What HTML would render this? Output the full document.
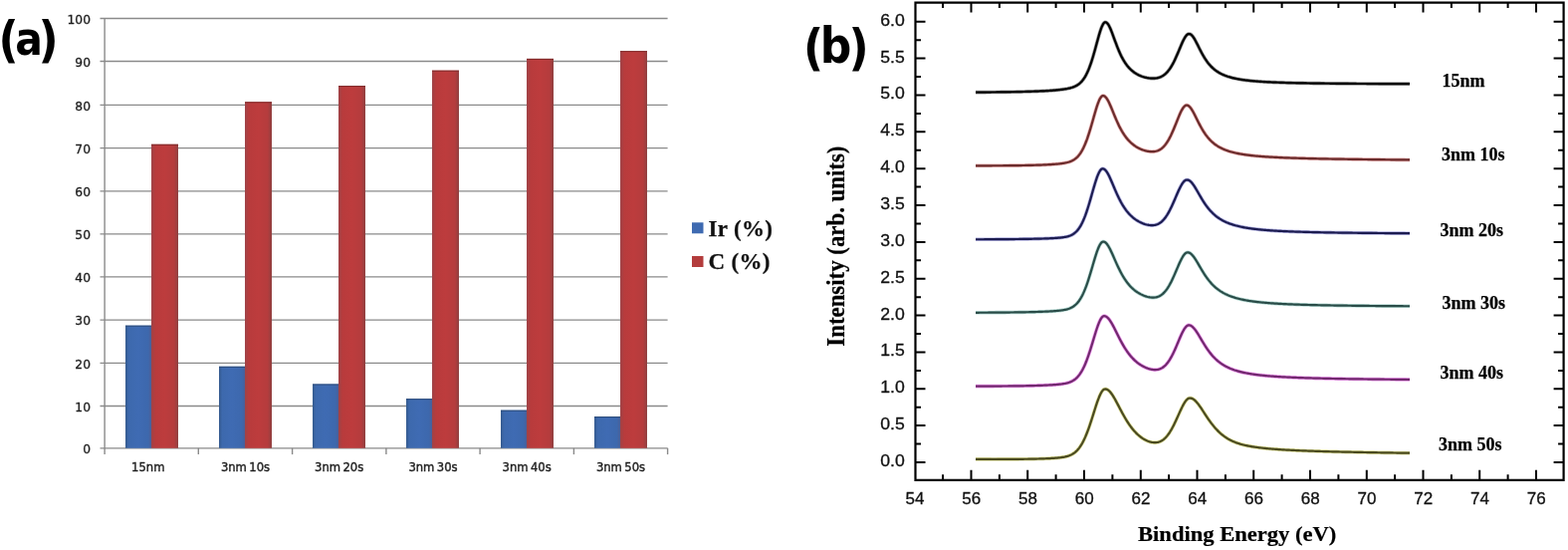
<!DOCTYPE html>
<html><head><meta charset="utf-8"><title>Ir/C composition and Ir 4f XPS spectra</title>
<style>
html,body{margin:0;padding:0;background:#fff;}
body{width:1575px;height:552px;overflow:hidden;}
svg{display:block;}
.ya{font-family:"DejaVu Sans",sans-serif;font-size:12.3px;fill:#1e1e1e;stroke:#1e1e1e;stroke-width:0.3px;}
.xa{font-family:"DejaVu Sans",sans-serif;font-size:11.6px;word-spacing:-1.3px;fill:#1e1e1e;stroke:#1e1e1e;stroke-width:0.4px;}
.leg{font-family:"Liberation Serif",serif;font-weight:bold;font-size:23px;letter-spacing:0.3px;fill:#111;stroke:#111;stroke-width:0.25px;}
.pl{font-family:"DejaVu Sans Condensed","DejaVu Sans",sans-serif;font-stretch:condensed;font-weight:bold;font-size:49px;fill:#000;}
.yb,.xb{font-family:"Liberation Sans",Arial,sans-serif;font-size:16.5px;fill:#111;stroke:#111;stroke-width:0.3px;}
.xb{font-size:17px;}
.tt{font-family:"Liberation Serif",serif;font-weight:bold;font-size:22px;fill:#000;stroke:#000;stroke-width:0.2px;}
.cl{font-family:"Liberation Serif",serif;font-weight:bold;font-size:18px;fill:#000;stroke:#000;stroke-width:0.25px;}
</style></head>
<body>
<svg width="1575" height="552" viewBox="0 0 1575 552">
<defs>
<linearGradient id="gb" x1="0" x2="1" y1="0" y2="0">
<stop offset="0" stop-color="#34598c"/><stop offset="0.12" stop-color="#3d69ad"/><stop offset="0.5" stop-color="#3f6bb3"/><stop offset="0.88" stop-color="#3d68ad"/><stop offset="1" stop-color="#4a5f98"/>
</linearGradient>
<linearGradient id="gr" x1="0" x2="1" y1="0" y2="0">
<stop offset="0" stop-color="#9e4347"/><stop offset="0.15" stop-color="#b83b3c"/><stop offset="0.5" stop-color="#bd3c3d"/><stop offset="0.85" stop-color="#b53c3d"/><stop offset="1" stop-color="#8e4040"/>
</linearGradient>
</defs>
<rect width="1575" height="552" fill="#fff"/>
<line x1="100.5" y1="449.8" x2="670.6" y2="449.8" stroke="#8a8a8a" stroke-width="1.3"/>
<line x1="100.5" y1="407.5" x2="670.6" y2="407.5" stroke="#8a8a8a" stroke-width="1.3"/>
<line x1="100.5" y1="364.4" x2="670.6" y2="364.4" stroke="#8a8a8a" stroke-width="1.3"/>
<line x1="100.5" y1="321.1" x2="670.6" y2="321.1" stroke="#8a8a8a" stroke-width="1.3"/>
<line x1="100.5" y1="277.9" x2="670.6" y2="277.9" stroke="#8a8a8a" stroke-width="1.3"/>
<line x1="100.5" y1="234.8" x2="670.6" y2="234.8" stroke="#8a8a8a" stroke-width="1.3"/>
<line x1="100.5" y1="191.9" x2="670.6" y2="191.9" stroke="#8a8a8a" stroke-width="1.3"/>
<line x1="100.5" y1="148.7" x2="670.6" y2="148.7" stroke="#8a8a8a" stroke-width="1.3"/>
<line x1="100.5" y1="105.4" x2="670.6" y2="105.4" stroke="#8a8a8a" stroke-width="1.3"/>
<line x1="100.5" y1="61.5" x2="670.6" y2="61.5" stroke="#8a8a8a" stroke-width="1.3"/>
<line x1="100.5" y1="18.5" x2="670.6" y2="18.5" stroke="#8a8a8a" stroke-width="1.3"/>
<line x1="105.1" y1="18.5" x2="105.1" y2="456.1" stroke="#8a8a8a" stroke-width="1.4"/>
<line x1="199.3" y1="449.8" x2="199.3" y2="456.1" stroke="#8a8a8a" stroke-width="1.4"/>
<line x1="293.6" y1="449.8" x2="293.6" y2="456.1" stroke="#8a8a8a" stroke-width="1.4"/>
<line x1="387.9" y1="449.8" x2="387.9" y2="456.1" stroke="#8a8a8a" stroke-width="1.4"/>
<line x1="482.1" y1="449.8" x2="482.1" y2="456.1" stroke="#8a8a8a" stroke-width="1.4"/>
<line x1="576.4" y1="449.8" x2="576.4" y2="456.1" stroke="#8a8a8a" stroke-width="1.4"/>
<line x1="670.6" y1="449.8" x2="670.6" y2="456.1" stroke="#8a8a8a" stroke-width="1.4"/>
<rect x="126" y="326.7" width="26" height="123.1" fill="url(#gb)"/>
<rect x="152" y="144.8" width="27" height="305.0" fill="url(#gr)"/>
<line x1="126" y1="327.2" x2="152" y2="327.2" stroke="#2c4a78" stroke-width="1"/>
<line x1="152" y1="145.3" x2="179" y2="145.3" stroke="#7e2a2a" stroke-width="1"/>
<rect x="220" y="367.8" width="26" height="82.0" fill="url(#gb)"/>
<rect x="246" y="102.3" width="27" height="347.5" fill="url(#gr)"/>
<line x1="220" y1="368.3" x2="246" y2="368.3" stroke="#2c4a78" stroke-width="1"/>
<line x1="246" y1="102.8" x2="273" y2="102.8" stroke="#7e2a2a" stroke-width="1"/>
<rect x="314" y="385.5" width="26" height="64.3" fill="url(#gb)"/>
<rect x="340" y="86.1" width="27" height="363.7" fill="url(#gr)"/>
<line x1="314" y1="386.0" x2="340" y2="386.0" stroke="#2c4a78" stroke-width="1"/>
<line x1="340" y1="86.6" x2="367" y2="86.6" stroke="#7e2a2a" stroke-width="1"/>
<rect x="408" y="400.2" width="26" height="49.6" fill="url(#gb)"/>
<rect x="434" y="70.7" width="27" height="379.1" fill="url(#gr)"/>
<line x1="408" y1="400.7" x2="434" y2="400.7" stroke="#2c4a78" stroke-width="1"/>
<line x1="434" y1="71.2" x2="461" y2="71.2" stroke="#7e2a2a" stroke-width="1"/>
<rect x="503" y="411.7" width="26" height="38.1" fill="url(#gb)"/>
<rect x="529" y="58.9" width="27" height="390.9" fill="url(#gr)"/>
<line x1="503" y1="412.2" x2="529" y2="412.2" stroke="#2c4a78" stroke-width="1"/>
<line x1="529" y1="59.4" x2="556" y2="59.4" stroke="#7e2a2a" stroke-width="1"/>
<rect x="597" y="418.1" width="26" height="31.7" fill="url(#gb)"/>
<rect x="623" y="51.2" width="27" height="398.6" fill="url(#gr)"/>
<line x1="597" y1="418.6" x2="623" y2="418.6" stroke="#2c4a78" stroke-width="1"/>
<line x1="623" y1="51.7" x2="650" y2="51.7" stroke="#7e2a2a" stroke-width="1"/>
<text x="91" y="455.0" text-anchor="end" class="ya">0</text>
<text x="91" y="412.7" text-anchor="end" class="ya">10</text>
<text x="91" y="369.6" text-anchor="end" class="ya">20</text>
<text x="91" y="326.3" text-anchor="end" class="ya">30</text>
<text x="91" y="283.1" text-anchor="end" class="ya">40</text>
<text x="91" y="240.0" text-anchor="end" class="ya">50</text>
<text x="91" y="197.1" text-anchor="end" class="ya">60</text>
<text x="91" y="153.9" text-anchor="end" class="ya">70</text>
<text x="91" y="110.6" text-anchor="end" class="ya">80</text>
<text x="91" y="66.7" text-anchor="end" class="ya">90</text>
<text x="91" y="23.7" text-anchor="end" class="ya">100</text>
<text x="148.8" y="473.4" text-anchor="middle" class="xa">15nm</text>
<text x="246.5" y="473.4" text-anchor="middle" class="xa">3nm 10s</text>
<text x="340.7" y="473.4" text-anchor="middle" class="xa">3nm 20s</text>
<text x="435.0" y="473.4" text-anchor="middle" class="xa">3nm 30s</text>
<text x="529.2" y="473.4" text-anchor="middle" class="xa">3nm 40s</text>
<text x="623.5" y="473.4" text-anchor="middle" class="xa">3nm 50s</text>
<rect x="695" y="223.3" width="11.5" height="11" fill="#3e6ab1"/>
<rect x="695" y="257" width="11.5" height="11" fill="#b33c3c"/>
<text x="711.6" y="236.6" class="leg">Ir (%)</text>
<text x="711.6" y="269.6" class="leg">C (%)</text>
<text class="pl"><tspan x="-1.6" y="57.3">(</tspan><tspan x="15.2" y="55.2" style="font-size:45.5px">a</tspan><tspan x="38.4" y="57.3">)</tspan></text>
<path d="M919.5 2.6H1570.6V481.8H919.5Z" fill="none" stroke="#000" stroke-width="2.2"/>
<path d="M919.5 464.0h10M1570.6 464.0h-10M919.5 445.6h5.5M1570.6 445.6h-5.5M919.5 427.1h10M1570.6 427.1h-10M919.5 408.7h5.5M1570.6 408.7h-5.5M919.5 390.3h10M1570.6 390.3h-10M919.5 371.9h5.5M1570.6 371.9h-5.5M919.5 353.4h10M1570.6 353.4h-10M919.5 335.0h5.5M1570.6 335.0h-5.5M919.5 316.6h10M1570.6 316.6h-10M919.5 298.2h5.5M1570.6 298.2h-5.5M919.5 279.8h10M1570.6 279.8h-10M919.5 261.3h5.5M1570.6 261.3h-5.5M919.5 242.9h10M1570.6 242.9h-10M919.5 224.5h5.5M1570.6 224.5h-5.5M919.5 206.1h10M1570.6 206.1h-10M919.5 187.6h5.5M1570.6 187.6h-5.5M919.5 169.2h10M1570.6 169.2h-10M919.5 150.8h5.5M1570.6 150.8h-5.5M919.5 132.3h10M1570.6 132.3h-10M919.5 113.9h5.5M1570.6 113.9h-5.5M919.5 95.5h10M1570.6 95.5h-10M919.5 77.1h5.5M1570.6 77.1h-5.5M919.5 58.6h10M1570.6 58.6h-10M919.5 40.2h5.5M1570.6 40.2h-5.5M919.5 21.8h10M1570.6 21.8h-10M947.1 481.8v-5.5M947.1 2.6v5.5M975.5 481.8v-10M975.5 2.6v10M1003.9 481.8v-5.5M1003.9 2.6v5.5M1032.2 481.8v-10M1032.2 2.6v10M1060.6 481.8v-5.5M1060.6 2.6v5.5M1089.0 481.8v-10M1089.0 2.6v10M1117.4 481.8v-5.5M1117.4 2.6v5.5M1145.8 481.8v-10M1145.8 2.6v10M1174.1 481.8v-5.5M1174.1 2.6v5.5M1202.5 481.8v-10M1202.5 2.6v10M1230.9 481.8v-5.5M1230.9 2.6v5.5M1259.2 481.8v-10M1259.2 2.6v10M1287.6 481.8v-5.5M1287.6 2.6v5.5M1316.0 481.8v-10M1316.0 2.6v10M1344.4 481.8v-5.5M1344.4 2.6v5.5M1372.8 481.8v-10M1372.8 2.6v10M1401.1 481.8v-5.5M1401.1 2.6v5.5M1429.5 481.8v-10M1429.5 2.6v10M1457.9 481.8v-5.5M1457.9 2.6v5.5M1486.2 481.8v-10M1486.2 2.6v10M1514.6 481.8v-5.5M1514.6 2.6v5.5M1543.0 481.8v-10M1543.0 2.6v10" fill="none" stroke="#000" stroke-width="2"/>
<text transform="translate(908.8 467.9) scale(1.07 1)" text-anchor="end" class="yb">0.0</text>
<text transform="translate(908.8 431.0) scale(1.07 1)" text-anchor="end" class="yb">0.5</text>
<text transform="translate(908.8 394.2) scale(1.07 1)" text-anchor="end" class="yb">1.0</text>
<text transform="translate(908.8 357.3) scale(1.07 1)" text-anchor="end" class="yb">1.5</text>
<text transform="translate(908.8 320.5) scale(1.07 1)" text-anchor="end" class="yb">2.0</text>
<text transform="translate(908.8 283.6) scale(1.07 1)" text-anchor="end" class="yb">2.5</text>
<text transform="translate(908.8 246.8) scale(1.07 1)" text-anchor="end" class="yb">3.0</text>
<text transform="translate(908.8 210.0) scale(1.07 1)" text-anchor="end" class="yb">3.5</text>
<text transform="translate(908.8 173.1) scale(1.07 1)" text-anchor="end" class="yb">4.0</text>
<text transform="translate(908.8 136.2) scale(1.07 1)" text-anchor="end" class="yb">4.5</text>
<text transform="translate(908.8 99.4) scale(1.07 1)" text-anchor="end" class="yb">5.0</text>
<text transform="translate(908.8 62.5) scale(1.07 1)" text-anchor="end" class="yb">5.5</text>
<text transform="translate(908.8 25.7) scale(1.07 1)" text-anchor="end" class="yb">6.0</text>
<text x="919.0" y="506" text-anchor="middle" class="xb">54</text>
<text x="975.8" y="506" text-anchor="middle" class="xb">56</text>
<text x="1032.5" y="506" text-anchor="middle" class="xb">58</text>
<text x="1089.3" y="506" text-anchor="middle" class="xb">60</text>
<text x="1146.0" y="506" text-anchor="middle" class="xb">62</text>
<text x="1202.8" y="506" text-anchor="middle" class="xb">64</text>
<text x="1259.5" y="506" text-anchor="middle" class="xb">66</text>
<text x="1316.3" y="506" text-anchor="middle" class="xb">68</text>
<text x="1373.0" y="506" text-anchor="middle" class="xb">70</text>
<text x="1429.8" y="506" text-anchor="middle" class="xb">72</text>
<text x="1486.5" y="506" text-anchor="middle" class="xb">74</text>
<text x="1543.3" y="506" text-anchor="middle" class="xb">76</text>
<text transform="translate(1143 543.4) scale(1.075 1)" class="tt" style="font-size:21px">Binding Energy (eV)</text>
<text transform="translate(847.8 347.7) scale(1.057 1) rotate(-90)" class="tt" style="font-size:22.85px">Intensity (arb. units)</text>
<text class="pl"><tspan x="806.9" y="65.2">(</tspan><tspan x="823.7" y="62.9">b</tspan><tspan x="852.5" y="65.2">)</tspan></text>
<path d="M980.0 92.66 981.0 92.65 982.0 92.65 983.0 92.64 984.0 92.63 985.0 92.62 986.0 92.61 987.0 92.61 988.0 92.60 989.0 92.59 990.0 92.58 991.0 92.57 992.0 92.56 993.0 92.55 994.0 92.54 995.0 92.53 996.0 92.52 997.0 92.51 998.0 92.50 999.0 92.49 1000.0 92.48 1001.0 92.47 1002.0 92.46 1003.0 92.44 1004.0 92.43 1005.0 92.42 1006.0 92.41 1007.0 92.39 1008.0 92.38 1009.0 92.37 1010.0 92.35 1011.0 92.34 1012.0 92.32 1013.0 92.31 1014.0 92.29 1015.0 92.28 1016.0 92.26 1017.0 92.24 1018.0 92.23 1019.0 92.21 1020.0 92.19 1021.0 92.17 1022.0 92.15 1023.0 92.13 1024.0 92.11 1025.0 92.09 1026.0 92.07 1027.0 92.04 1028.0 92.02 1029.0 92.00 1030.0 91.97 1031.0 91.95 1032.0 91.92 1033.0 91.89 1034.0 91.86 1035.0 91.83 1036.0 91.80 1037.0 91.77 1038.0 91.74 1039.0 91.71 1040.0 91.67 1041.0 91.63 1042.0 91.59 1043.0 91.56 1044.0 91.51 1045.0 91.47 1046.0 91.43 1047.0 91.38 1048.0 91.33 1049.0 91.28 1050.0 91.23 1051.0 91.17 1052.0 91.11 1053.0 91.05 1054.0 90.99 1055.0 90.92 1056.0 90.85 1057.0 90.78 1058.0 90.70 1059.0 90.62 1060.0 90.54 1061.0 90.45 1062.0 90.35 1063.0 90.25 1064.0 90.15 1065.0 90.03 1066.0 89.91 1067.0 89.79 1068.0 89.65 1069.0 89.50 1070.0 89.34 1071.0 89.17 1072.0 88.99 1073.0 88.78 1074.0 88.56 1075.0 88.32 1076.0 88.04 1077.0 87.74 1078.0 87.40 1079.0 87.01 1080.0 86.57 1081.0 86.07 1082.0 85.50 1083.0 84.85 1084.0 84.11 1085.0 83.25 1086.0 82.28 1087.0 81.17 1088.0 79.91 1089.0 78.48 1090.0 76.87 1091.0 75.06 1092.0 73.05 1093.0 70.83 1094.0 68.39 1095.0 65.72 1096.0 62.84 1097.0 59.76 1098.0 56.48 1099.0 53.03 1100.0 49.45 1101.0 45.79 1102.0 42.09 1103.0 38.44 1104.0 34.91 1105.0 31.61 1106.0 28.65 1107.0 26.14 1108.0 24.19 1109.0 22.90 1110.0 22.33 1111.0 22.43 1112.0 23.09 1113.0 24.28 1114.0 25.92 1115.0 27.96 1116.0 30.29 1117.0 32.84 1118.0 35.53 1119.0 38.28 1120.0 41.03 1121.0 43.74 1122.0 46.36 1123.0 48.88 1124.0 51.28 1125.0 53.54 1126.0 55.66 1127.0 57.63 1128.0 59.47 1129.0 61.18 1130.0 62.76 1131.0 64.22 1132.0 65.57 1133.0 66.82 1134.0 67.96 1135.0 69.02 1136.0 69.99 1137.0 70.88 1138.0 71.71 1139.0 72.47 1140.0 73.16 1141.0 73.81 1142.0 74.39 1143.0 74.93 1144.0 75.43 1145.0 75.88 1146.0 76.29 1147.0 76.67 1148.0 77.01 1149.0 77.32 1150.0 77.59 1151.0 77.83 1152.0 78.05 1153.0 78.23 1154.0 78.38 1155.0 78.50 1156.0 78.59 1157.0 78.64 1158.0 78.66 1159.0 78.64 1160.0 78.58 1161.0 78.47 1162.0 78.32 1163.0 78.11 1164.0 77.85 1165.0 77.52 1166.0 77.11 1167.0 76.63 1168.0 76.06 1169.0 75.40 1170.0 74.64 1171.0 73.77 1172.0 72.78 1173.0 71.67 1174.0 70.43 1175.0 69.06 1176.0 67.56 1177.0 65.92 1178.0 64.14 1179.0 62.23 1180.0 60.20 1181.0 58.06 1182.0 55.82 1183.0 53.50 1184.0 51.13 1185.0 48.73 1186.0 46.34 1187.0 44.02 1188.0 41.80 1189.0 39.75 1190.0 37.92 1191.0 36.38 1192.0 35.18 1193.0 34.38 1194.0 34.00 1195.0 34.05 1196.0 34.49 1197.0 35.28 1198.0 36.40 1199.0 37.80 1200.0 39.43 1201.0 41.22 1202.0 43.14 1203.0 45.12 1204.0 47.13 1205.0 49.13 1206.0 51.09 1207.0 52.99 1208.0 54.81 1209.0 56.55 1210.0 58.19 1211.0 59.74 1212.0 61.20 1213.0 62.56 1214.0 63.84 1215.0 65.02 1216.0 66.13 1217.0 67.16 1218.0 68.12 1219.0 69.01 1220.0 69.84 1221.0 70.61 1222.0 71.33 1223.0 71.99 1224.0 72.62 1225.0 73.20 1226.0 73.74 1227.0 74.25 1228.0 74.73 1229.0 75.17 1230.0 75.59 1231.0 75.98 1232.0 76.34 1233.0 76.69 1234.0 77.01 1235.0 77.32 1236.0 77.61 1237.0 77.88 1238.0 78.13 1239.0 78.38 1240.0 78.61 1241.0 78.82 1242.0 79.03 1243.0 79.22 1244.0 79.41 1245.0 79.58 1246.0 79.75 1247.0 79.91 1248.0 80.06 1249.0 80.20 1250.0 80.34 1251.0 80.47 1252.0 80.59 1253.0 80.71 1254.0 80.83 1255.0 80.94 1256.0 81.04 1257.0 81.14 1258.0 81.24 1259.0 81.33 1260.0 81.42 1261.0 81.50 1262.0 81.58 1263.0 81.66 1264.0 81.73 1265.0 81.81 1266.0 81.87 1267.0 81.94 1268.0 82.01 1269.0 82.07 1270.0 82.13 1271.0 82.18 1272.0 82.24 1273.0 82.29 1274.0 82.34 1275.0 82.39 1276.0 82.44 1277.0 82.49 1278.0 82.53 1279.0 82.58 1280.0 82.62 1281.0 82.66 1282.0 82.70 1283.0 82.74 1284.0 82.77 1285.0 82.81 1286.0 82.84 1287.0 82.88 1288.0 82.91 1289.0 82.94 1290.0 82.97 1291.0 83.00 1292.0 83.03 1293.0 83.06 1294.0 83.09 1295.0 83.11 1296.0 83.14 1297.0 83.17 1298.0 83.19 1299.0 83.21 1300.0 83.24 1301.0 83.26 1302.0 83.28 1303.0 83.30 1304.0 83.32 1305.0 83.34 1306.0 83.36 1307.0 83.38 1308.0 83.40 1309.0 83.42 1310.0 83.44 1311.0 83.45 1312.0 83.47 1313.0 83.49 1314.0 83.50 1315.0 83.52 1316.0 83.54 1317.0 83.55 1318.0 83.56 1319.0 83.58 1320.0 83.59 1321.0 83.61 1322.0 83.62 1323.0 83.63 1324.0 83.65 1325.0 83.66 1326.0 83.67 1327.0 83.68 1328.0 83.69 1329.0 83.70 1330.0 83.72 1331.0 83.73 1332.0 83.74 1333.0 83.75 1334.0 83.76 1335.0 83.77 1336.0 83.78 1337.0 83.79 1338.0 83.80 1339.0 83.81 1340.0 83.81 1341.0 83.82 1342.0 83.83 1343.0 83.84 1344.0 83.85 1345.0 83.86 1346.0 83.86 1347.0 83.87 1348.0 83.88 1349.0 83.89 1350.0 83.89 1351.0 83.90 1352.0 83.91 1353.0 83.91 1354.0 83.92 1355.0 83.93 1356.0 83.93 1357.0 83.94 1358.0 83.95 1359.0 83.95 1360.0 83.96 1361.0 83.96 1362.0 83.97 1363.0 83.98 1364.0 83.98 1365.0 83.99 1366.0 83.99 1367.0 84.00 1368.0 84.00 1369.0 84.01 1370.0 84.01 1371.0 84.02 1372.0 84.02 1373.0 84.03 1374.0 84.03 1375.0 84.04 1376.0 84.04 1377.0 84.04 1378.0 84.05 1379.0 84.05 1380.0 84.06 1381.0 84.06 1382.0 84.06 1383.0 84.07 1384.0 84.07 1385.0 84.08 1386.0 84.08 1387.0 84.08 1388.0 84.09 1389.0 84.09 1390.0 84.09 1391.0 84.10 1392.0 84.10 1393.0 84.10 1394.0 84.11 1395.0 84.11 1396.0 84.11 1397.0 84.12 1398.0 84.12 1399.0 84.12 1400.0 84.12 1401.0 84.13 1402.0 84.13 1403.0 84.13 1404.0 84.14 1405.0 84.14 1406.0 84.14 1407.0 84.14 1408.0 84.15 1409.0 84.15 1410.0 84.15 1411.0 84.15 1412.0 84.16 1413.0 84.16 1414.0 84.16 1415.0 84.16 1416.0 84.16" fill="none" stroke="#9a9a9a" stroke-width="3.6" stroke-linejoin="round"/>
<path d="M980.0 92.66 981.0 92.65 982.0 92.65 983.0 92.64 984.0 92.63 985.0 92.62 986.0 92.61 987.0 92.61 988.0 92.60 989.0 92.59 990.0 92.58 991.0 92.57 992.0 92.56 993.0 92.55 994.0 92.54 995.0 92.53 996.0 92.52 997.0 92.51 998.0 92.50 999.0 92.49 1000.0 92.48 1001.0 92.47 1002.0 92.46 1003.0 92.44 1004.0 92.43 1005.0 92.42 1006.0 92.41 1007.0 92.39 1008.0 92.38 1009.0 92.37 1010.0 92.35 1011.0 92.34 1012.0 92.32 1013.0 92.31 1014.0 92.29 1015.0 92.28 1016.0 92.26 1017.0 92.24 1018.0 92.23 1019.0 92.21 1020.0 92.19 1021.0 92.17 1022.0 92.15 1023.0 92.13 1024.0 92.11 1025.0 92.09 1026.0 92.07 1027.0 92.04 1028.0 92.02 1029.0 92.00 1030.0 91.97 1031.0 91.95 1032.0 91.92 1033.0 91.89 1034.0 91.86 1035.0 91.83 1036.0 91.80 1037.0 91.77 1038.0 91.74 1039.0 91.71 1040.0 91.67 1041.0 91.63 1042.0 91.59 1043.0 91.56 1044.0 91.51 1045.0 91.47 1046.0 91.43 1047.0 91.38 1048.0 91.33 1049.0 91.28 1050.0 91.23 1051.0 91.17 1052.0 91.11 1053.0 91.05 1054.0 90.99 1055.0 90.92 1056.0 90.85 1057.0 90.78 1058.0 90.70 1059.0 90.62 1060.0 90.54 1061.0 90.45 1062.0 90.35 1063.0 90.25 1064.0 90.15 1065.0 90.03 1066.0 89.91 1067.0 89.79 1068.0 89.65 1069.0 89.50 1070.0 89.34 1071.0 89.17 1072.0 88.99 1073.0 88.78 1074.0 88.56 1075.0 88.32 1076.0 88.04 1077.0 87.74 1078.0 87.40 1079.0 87.01 1080.0 86.57 1081.0 86.07 1082.0 85.50 1083.0 84.85 1084.0 84.11 1085.0 83.25 1086.0 82.28 1087.0 81.17 1088.0 79.91 1089.0 78.48 1090.0 76.87 1091.0 75.06 1092.0 73.05 1093.0 70.83 1094.0 68.39 1095.0 65.72 1096.0 62.84 1097.0 59.76 1098.0 56.48 1099.0 53.03 1100.0 49.45 1101.0 45.79 1102.0 42.09 1103.0 38.44 1104.0 34.91 1105.0 31.61 1106.0 28.65 1107.0 26.14 1108.0 24.19 1109.0 22.90 1110.0 22.33 1111.0 22.43 1112.0 23.09 1113.0 24.28 1114.0 25.92 1115.0 27.96 1116.0 30.29 1117.0 32.84 1118.0 35.53 1119.0 38.28 1120.0 41.03 1121.0 43.74 1122.0 46.36 1123.0 48.88 1124.0 51.28 1125.0 53.54 1126.0 55.66 1127.0 57.63 1128.0 59.47 1129.0 61.18 1130.0 62.76 1131.0 64.22 1132.0 65.57 1133.0 66.82 1134.0 67.96 1135.0 69.02 1136.0 69.99 1137.0 70.88 1138.0 71.71 1139.0 72.47 1140.0 73.16 1141.0 73.81 1142.0 74.39 1143.0 74.93 1144.0 75.43 1145.0 75.88 1146.0 76.29 1147.0 76.67 1148.0 77.01 1149.0 77.32 1150.0 77.59 1151.0 77.83 1152.0 78.05 1153.0 78.23 1154.0 78.38 1155.0 78.50 1156.0 78.59 1157.0 78.64 1158.0 78.66 1159.0 78.64 1160.0 78.58 1161.0 78.47 1162.0 78.32 1163.0 78.11 1164.0 77.85 1165.0 77.52 1166.0 77.11 1167.0 76.63 1168.0 76.06 1169.0 75.40 1170.0 74.64 1171.0 73.77 1172.0 72.78 1173.0 71.67 1174.0 70.43 1175.0 69.06 1176.0 67.56 1177.0 65.92 1178.0 64.14 1179.0 62.23 1180.0 60.20 1181.0 58.06 1182.0 55.82 1183.0 53.50 1184.0 51.13 1185.0 48.73 1186.0 46.34 1187.0 44.02 1188.0 41.80 1189.0 39.75 1190.0 37.92 1191.0 36.38 1192.0 35.18 1193.0 34.38 1194.0 34.00 1195.0 34.05 1196.0 34.49 1197.0 35.28 1198.0 36.40 1199.0 37.80 1200.0 39.43 1201.0 41.22 1202.0 43.14 1203.0 45.12 1204.0 47.13 1205.0 49.13 1206.0 51.09 1207.0 52.99 1208.0 54.81 1209.0 56.55 1210.0 58.19 1211.0 59.74 1212.0 61.20 1213.0 62.56 1214.0 63.84 1215.0 65.02 1216.0 66.13 1217.0 67.16 1218.0 68.12 1219.0 69.01 1220.0 69.84 1221.0 70.61 1222.0 71.33 1223.0 71.99 1224.0 72.62 1225.0 73.20 1226.0 73.74 1227.0 74.25 1228.0 74.73 1229.0 75.17 1230.0 75.59 1231.0 75.98 1232.0 76.34 1233.0 76.69 1234.0 77.01 1235.0 77.32 1236.0 77.61 1237.0 77.88 1238.0 78.13 1239.0 78.38 1240.0 78.61 1241.0 78.82 1242.0 79.03 1243.0 79.22 1244.0 79.41 1245.0 79.58 1246.0 79.75 1247.0 79.91 1248.0 80.06 1249.0 80.20 1250.0 80.34 1251.0 80.47 1252.0 80.59 1253.0 80.71 1254.0 80.83 1255.0 80.94 1256.0 81.04 1257.0 81.14 1258.0 81.24 1259.0 81.33 1260.0 81.42 1261.0 81.50 1262.0 81.58 1263.0 81.66 1264.0 81.73 1265.0 81.81 1266.0 81.87 1267.0 81.94 1268.0 82.01 1269.0 82.07 1270.0 82.13 1271.0 82.18 1272.0 82.24 1273.0 82.29 1274.0 82.34 1275.0 82.39 1276.0 82.44 1277.0 82.49 1278.0 82.53 1279.0 82.58 1280.0 82.62 1281.0 82.66 1282.0 82.70 1283.0 82.74 1284.0 82.77 1285.0 82.81 1286.0 82.84 1287.0 82.88 1288.0 82.91 1289.0 82.94 1290.0 82.97 1291.0 83.00 1292.0 83.03 1293.0 83.06 1294.0 83.09 1295.0 83.11 1296.0 83.14 1297.0 83.17 1298.0 83.19 1299.0 83.21 1300.0 83.24 1301.0 83.26 1302.0 83.28 1303.0 83.30 1304.0 83.32 1305.0 83.34 1306.0 83.36 1307.0 83.38 1308.0 83.40 1309.0 83.42 1310.0 83.44 1311.0 83.45 1312.0 83.47 1313.0 83.49 1314.0 83.50 1315.0 83.52 1316.0 83.54 1317.0 83.55 1318.0 83.56 1319.0 83.58 1320.0 83.59 1321.0 83.61 1322.0 83.62 1323.0 83.63 1324.0 83.65 1325.0 83.66 1326.0 83.67 1327.0 83.68 1328.0 83.69 1329.0 83.70 1330.0 83.72 1331.0 83.73 1332.0 83.74 1333.0 83.75 1334.0 83.76 1335.0 83.77 1336.0 83.78 1337.0 83.79 1338.0 83.80 1339.0 83.81 1340.0 83.81 1341.0 83.82 1342.0 83.83 1343.0 83.84 1344.0 83.85 1345.0 83.86 1346.0 83.86 1347.0 83.87 1348.0 83.88 1349.0 83.89 1350.0 83.89 1351.0 83.90 1352.0 83.91 1353.0 83.91 1354.0 83.92 1355.0 83.93 1356.0 83.93 1357.0 83.94 1358.0 83.95 1359.0 83.95 1360.0 83.96 1361.0 83.96 1362.0 83.97 1363.0 83.98 1364.0 83.98 1365.0 83.99 1366.0 83.99 1367.0 84.00 1368.0 84.00 1369.0 84.01 1370.0 84.01 1371.0 84.02 1372.0 84.02 1373.0 84.03 1374.0 84.03 1375.0 84.04 1376.0 84.04 1377.0 84.04 1378.0 84.05 1379.0 84.05 1380.0 84.06 1381.0 84.06 1382.0 84.06 1383.0 84.07 1384.0 84.07 1385.0 84.08 1386.0 84.08 1387.0 84.08 1388.0 84.09 1389.0 84.09 1390.0 84.09 1391.0 84.10 1392.0 84.10 1393.0 84.10 1394.0 84.11 1395.0 84.11 1396.0 84.11 1397.0 84.12 1398.0 84.12 1399.0 84.12 1400.0 84.12 1401.0 84.13 1402.0 84.13 1403.0 84.13 1404.0 84.14 1405.0 84.14 1406.0 84.14 1407.0 84.14 1408.0 84.15 1409.0 84.15 1410.0 84.15 1411.0 84.15 1412.0 84.16 1413.0 84.16 1414.0 84.16 1415.0 84.16 1416.0 84.16" fill="none" stroke="#000000" stroke-width="2.2" stroke-linejoin="round"/>
<text x="1448.5" y="87.3" class="cl">15nm</text>
<path d="M980.0 166.31 981.0 166.31 982.0 166.31 983.0 166.31 984.0 166.30 985.0 166.30 986.0 166.30 987.0 166.30 988.0 166.30 989.0 166.30 990.0 166.29 991.0 166.29 992.0 166.29 993.0 166.29 994.0 166.28 995.0 166.28 996.0 166.28 997.0 166.27 998.0 166.27 999.0 166.27 1000.0 166.26 1001.0 166.26 1002.0 166.25 1003.0 166.25 1004.0 166.24 1005.0 166.24 1006.0 166.23 1007.0 166.23 1008.0 166.22 1009.0 166.21 1010.0 166.21 1011.0 166.20 1012.0 166.19 1013.0 166.18 1014.0 166.17 1015.0 166.17 1016.0 166.16 1017.0 166.15 1018.0 166.14 1019.0 166.13 1020.0 166.11 1021.0 166.10 1022.0 166.09 1023.0 166.08 1024.0 166.06 1025.0 166.05 1026.0 166.03 1027.0 166.02 1028.0 166.00 1029.0 165.99 1030.0 165.97 1031.0 165.95 1032.0 165.93 1033.0 165.91 1034.0 165.89 1035.0 165.87 1036.0 165.84 1037.0 165.82 1038.0 165.79 1039.0 165.77 1040.0 165.74 1041.0 165.71 1042.0 165.68 1043.0 165.65 1044.0 165.61 1045.0 165.58 1046.0 165.54 1047.0 165.50 1048.0 165.46 1049.0 165.42 1050.0 165.37 1051.0 165.32 1052.0 165.27 1053.0 165.22 1054.0 165.16 1055.0 165.10 1056.0 165.04 1057.0 164.97 1058.0 164.90 1059.0 164.82 1060.0 164.74 1061.0 164.66 1062.0 164.57 1063.0 164.47 1064.0 164.36 1065.0 164.25 1066.0 164.12 1067.0 163.98 1068.0 163.83 1069.0 163.67 1070.0 163.48 1071.0 163.27 1072.0 163.04 1073.0 162.77 1074.0 162.47 1075.0 162.12 1076.0 161.72 1077.0 161.26 1078.0 160.73 1079.0 160.12 1080.0 159.42 1081.0 158.62 1082.0 157.69 1083.0 156.64 1084.0 155.44 1085.0 154.08 1086.0 152.55 1087.0 150.84 1088.0 148.93 1089.0 146.83 1090.0 144.52 1091.0 142.01 1092.0 139.30 1093.0 136.39 1094.0 133.31 1095.0 130.07 1096.0 126.70 1097.0 123.22 1098.0 119.70 1099.0 116.17 1100.0 112.69 1101.0 109.34 1102.0 106.19 1103.0 103.32 1104.0 100.82 1105.0 98.78 1106.0 97.27 1107.0 96.35 1108.0 96.05 1109.0 96.25 1110.0 96.89 1111.0 97.93 1112.0 99.34 1113.0 101.06 1114.0 103.04 1115.0 105.21 1116.0 107.53 1117.0 109.94 1118.0 112.39 1119.0 114.83 1120.0 117.25 1121.0 119.61 1122.0 121.89 1123.0 124.08 1124.0 126.16 1125.0 128.14 1126.0 130.01 1127.0 131.77 1128.0 133.43 1129.0 134.97 1130.0 136.42 1131.0 137.77 1132.0 139.04 1133.0 140.21 1134.0 141.31 1135.0 142.32 1136.0 143.27 1137.0 144.15 1138.0 144.97 1139.0 145.73 1140.0 146.44 1141.0 147.09 1142.0 147.70 1143.0 148.26 1144.0 148.78 1145.0 149.26 1146.0 149.70 1147.0 150.11 1148.0 150.48 1149.0 150.81 1150.0 151.11 1151.0 151.37 1152.0 151.60 1153.0 151.80 1154.0 151.95 1155.0 152.07 1156.0 152.15 1157.0 152.18 1158.0 152.16 1159.0 152.10 1160.0 151.97 1161.0 151.77 1162.0 151.51 1163.0 151.17 1164.0 150.74 1165.0 150.22 1166.0 149.59 1167.0 148.85 1168.0 147.99 1169.0 147.01 1170.0 145.89 1171.0 144.63 1172.0 143.22 1173.0 141.67 1174.0 139.97 1175.0 138.13 1176.0 136.14 1177.0 134.02 1178.0 131.79 1179.0 129.45 1180.0 127.03 1181.0 124.55 1182.0 122.04 1183.0 119.55 1184.0 117.10 1185.0 114.76 1186.0 112.56 1187.0 110.58 1188.0 108.85 1189.0 107.44 1190.0 106.41 1191.0 105.78 1192.0 105.58 1193.0 105.77 1194.0 106.32 1195.0 107.21 1196.0 108.39 1197.0 109.82 1198.0 111.47 1199.0 113.27 1200.0 115.19 1201.0 117.18 1202.0 119.19 1203.0 121.21 1204.0 123.19 1205.0 125.12 1206.0 126.99 1207.0 128.78 1208.0 130.48 1209.0 132.10 1210.0 133.62 1211.0 135.06 1212.0 136.41 1213.0 137.67 1214.0 138.86 1215.0 139.97 1216.0 141.01 1217.0 141.97 1218.0 142.88 1219.0 143.73 1220.0 144.52 1221.0 145.26 1222.0 145.95 1223.0 146.60 1224.0 147.21 1225.0 147.78 1226.0 148.32 1227.0 148.82 1228.0 149.30 1229.0 149.74 1230.0 150.16 1231.0 150.56 1232.0 150.93 1233.0 151.28 1234.0 151.62 1235.0 151.93 1236.0 152.23 1237.0 152.51 1238.0 152.78 1239.0 153.03 1240.0 153.28 1241.0 153.51 1242.0 153.73 1243.0 153.93 1244.0 154.13 1245.0 154.32 1246.0 154.50 1247.0 154.68 1248.0 154.84 1249.0 155.00 1250.0 155.15 1251.0 155.30 1252.0 155.44 1253.0 155.57 1254.0 155.70 1255.0 155.82 1256.0 155.94 1257.0 156.05 1258.0 156.16 1259.0 156.27 1260.0 156.37 1261.0 156.47 1262.0 156.56 1263.0 156.65 1264.0 156.74 1265.0 156.82 1266.0 156.91 1267.0 156.98 1268.0 157.06 1269.0 157.14 1270.0 157.21 1271.0 157.28 1272.0 157.34 1273.0 157.41 1274.0 157.47 1275.0 157.53 1276.0 157.59 1277.0 157.65 1278.0 157.71 1279.0 157.76 1280.0 157.82 1281.0 157.87 1282.0 157.92 1283.0 157.97 1284.0 158.02 1285.0 158.06 1286.0 158.11 1287.0 158.15 1288.0 158.20 1289.0 158.24 1290.0 158.28 1291.0 158.32 1292.0 158.36 1293.0 158.40 1294.0 158.43 1295.0 158.47 1296.0 158.51 1297.0 158.54 1298.0 158.57 1299.0 158.61 1300.0 158.64 1301.0 158.67 1302.0 158.70 1303.0 158.74 1304.0 158.77 1305.0 158.79 1306.0 158.82 1307.0 158.85 1308.0 158.88 1309.0 158.91 1310.0 158.93 1311.0 158.96 1312.0 158.99 1313.0 159.01 1314.0 159.04 1315.0 159.06 1316.0 159.09 1317.0 159.11 1318.0 159.13 1319.0 159.16 1320.0 159.18 1321.0 159.20 1322.0 159.22 1323.0 159.24 1324.0 159.26 1325.0 159.28 1326.0 159.31 1327.0 159.33 1328.0 159.35 1329.0 159.36 1330.0 159.38 1331.0 159.40 1332.0 159.42 1333.0 159.44 1334.0 159.46 1335.0 159.48 1336.0 159.49 1337.0 159.51 1338.0 159.53 1339.0 159.55 1340.0 159.56 1341.0 159.58 1342.0 159.60 1343.0 159.61 1344.0 159.63 1345.0 159.64 1346.0 159.66 1347.0 159.67 1348.0 159.69 1349.0 159.71 1350.0 159.72 1351.0 159.73 1352.0 159.75 1353.0 159.76 1354.0 159.78 1355.0 159.79 1356.0 159.81 1357.0 159.82 1358.0 159.83 1359.0 159.85 1360.0 159.86 1361.0 159.87 1362.0 159.89 1363.0 159.90 1364.0 159.91 1365.0 159.93 1366.0 159.94 1367.0 159.95 1368.0 159.96 1369.0 159.98 1370.0 159.99 1371.0 160.00 1372.0 160.01 1373.0 160.02 1374.0 160.04 1375.0 160.05 1376.0 160.06 1377.0 160.07 1378.0 160.08 1379.0 160.09 1380.0 160.11 1381.0 160.12 1382.0 160.13 1383.0 160.14 1384.0 160.15 1385.0 160.16 1386.0 160.17 1387.0 160.18 1388.0 160.19 1389.0 160.20 1390.0 160.21 1391.0 160.22 1392.0 160.23 1393.0 160.24 1394.0 160.25 1395.0 160.26 1396.0 160.27 1397.0 160.28 1398.0 160.29 1399.0 160.30 1400.0 160.31 1401.0 160.32 1402.0 160.33 1403.0 160.34 1404.0 160.35 1405.0 160.36 1406.0 160.37 1407.0 160.38 1408.0 160.39 1409.0 160.40 1410.0 160.41 1411.0 160.42 1412.0 160.43 1413.0 160.44 1414.0 160.45 1415.0 160.46 1416.0 160.46" fill="none" stroke="#e6acac" stroke-width="3.6" stroke-linejoin="round"/>
<path d="M980.0 166.31 981.0 166.31 982.0 166.31 983.0 166.31 984.0 166.30 985.0 166.30 986.0 166.30 987.0 166.30 988.0 166.30 989.0 166.30 990.0 166.29 991.0 166.29 992.0 166.29 993.0 166.29 994.0 166.28 995.0 166.28 996.0 166.28 997.0 166.27 998.0 166.27 999.0 166.27 1000.0 166.26 1001.0 166.26 1002.0 166.25 1003.0 166.25 1004.0 166.24 1005.0 166.24 1006.0 166.23 1007.0 166.23 1008.0 166.22 1009.0 166.21 1010.0 166.21 1011.0 166.20 1012.0 166.19 1013.0 166.18 1014.0 166.17 1015.0 166.17 1016.0 166.16 1017.0 166.15 1018.0 166.14 1019.0 166.13 1020.0 166.11 1021.0 166.10 1022.0 166.09 1023.0 166.08 1024.0 166.06 1025.0 166.05 1026.0 166.03 1027.0 166.02 1028.0 166.00 1029.0 165.99 1030.0 165.97 1031.0 165.95 1032.0 165.93 1033.0 165.91 1034.0 165.89 1035.0 165.87 1036.0 165.84 1037.0 165.82 1038.0 165.79 1039.0 165.77 1040.0 165.74 1041.0 165.71 1042.0 165.68 1043.0 165.65 1044.0 165.61 1045.0 165.58 1046.0 165.54 1047.0 165.50 1048.0 165.46 1049.0 165.42 1050.0 165.37 1051.0 165.32 1052.0 165.27 1053.0 165.22 1054.0 165.16 1055.0 165.10 1056.0 165.04 1057.0 164.97 1058.0 164.90 1059.0 164.82 1060.0 164.74 1061.0 164.66 1062.0 164.57 1063.0 164.47 1064.0 164.36 1065.0 164.25 1066.0 164.12 1067.0 163.98 1068.0 163.83 1069.0 163.67 1070.0 163.48 1071.0 163.27 1072.0 163.04 1073.0 162.77 1074.0 162.47 1075.0 162.12 1076.0 161.72 1077.0 161.26 1078.0 160.73 1079.0 160.12 1080.0 159.42 1081.0 158.62 1082.0 157.69 1083.0 156.64 1084.0 155.44 1085.0 154.08 1086.0 152.55 1087.0 150.84 1088.0 148.93 1089.0 146.83 1090.0 144.52 1091.0 142.01 1092.0 139.30 1093.0 136.39 1094.0 133.31 1095.0 130.07 1096.0 126.70 1097.0 123.22 1098.0 119.70 1099.0 116.17 1100.0 112.69 1101.0 109.34 1102.0 106.19 1103.0 103.32 1104.0 100.82 1105.0 98.78 1106.0 97.27 1107.0 96.35 1108.0 96.05 1109.0 96.25 1110.0 96.89 1111.0 97.93 1112.0 99.34 1113.0 101.06 1114.0 103.04 1115.0 105.21 1116.0 107.53 1117.0 109.94 1118.0 112.39 1119.0 114.83 1120.0 117.25 1121.0 119.61 1122.0 121.89 1123.0 124.08 1124.0 126.16 1125.0 128.14 1126.0 130.01 1127.0 131.77 1128.0 133.43 1129.0 134.97 1130.0 136.42 1131.0 137.77 1132.0 139.04 1133.0 140.21 1134.0 141.31 1135.0 142.32 1136.0 143.27 1137.0 144.15 1138.0 144.97 1139.0 145.73 1140.0 146.44 1141.0 147.09 1142.0 147.70 1143.0 148.26 1144.0 148.78 1145.0 149.26 1146.0 149.70 1147.0 150.11 1148.0 150.48 1149.0 150.81 1150.0 151.11 1151.0 151.37 1152.0 151.60 1153.0 151.80 1154.0 151.95 1155.0 152.07 1156.0 152.15 1157.0 152.18 1158.0 152.16 1159.0 152.10 1160.0 151.97 1161.0 151.77 1162.0 151.51 1163.0 151.17 1164.0 150.74 1165.0 150.22 1166.0 149.59 1167.0 148.85 1168.0 147.99 1169.0 147.01 1170.0 145.89 1171.0 144.63 1172.0 143.22 1173.0 141.67 1174.0 139.97 1175.0 138.13 1176.0 136.14 1177.0 134.02 1178.0 131.79 1179.0 129.45 1180.0 127.03 1181.0 124.55 1182.0 122.04 1183.0 119.55 1184.0 117.10 1185.0 114.76 1186.0 112.56 1187.0 110.58 1188.0 108.85 1189.0 107.44 1190.0 106.41 1191.0 105.78 1192.0 105.58 1193.0 105.77 1194.0 106.32 1195.0 107.21 1196.0 108.39 1197.0 109.82 1198.0 111.47 1199.0 113.27 1200.0 115.19 1201.0 117.18 1202.0 119.19 1203.0 121.21 1204.0 123.19 1205.0 125.12 1206.0 126.99 1207.0 128.78 1208.0 130.48 1209.0 132.10 1210.0 133.62 1211.0 135.06 1212.0 136.41 1213.0 137.67 1214.0 138.86 1215.0 139.97 1216.0 141.01 1217.0 141.97 1218.0 142.88 1219.0 143.73 1220.0 144.52 1221.0 145.26 1222.0 145.95 1223.0 146.60 1224.0 147.21 1225.0 147.78 1226.0 148.32 1227.0 148.82 1228.0 149.30 1229.0 149.74 1230.0 150.16 1231.0 150.56 1232.0 150.93 1233.0 151.28 1234.0 151.62 1235.0 151.93 1236.0 152.23 1237.0 152.51 1238.0 152.78 1239.0 153.03 1240.0 153.28 1241.0 153.51 1242.0 153.73 1243.0 153.93 1244.0 154.13 1245.0 154.32 1246.0 154.50 1247.0 154.68 1248.0 154.84 1249.0 155.00 1250.0 155.15 1251.0 155.30 1252.0 155.44 1253.0 155.57 1254.0 155.70 1255.0 155.82 1256.0 155.94 1257.0 156.05 1258.0 156.16 1259.0 156.27 1260.0 156.37 1261.0 156.47 1262.0 156.56 1263.0 156.65 1264.0 156.74 1265.0 156.82 1266.0 156.91 1267.0 156.98 1268.0 157.06 1269.0 157.14 1270.0 157.21 1271.0 157.28 1272.0 157.34 1273.0 157.41 1274.0 157.47 1275.0 157.53 1276.0 157.59 1277.0 157.65 1278.0 157.71 1279.0 157.76 1280.0 157.82 1281.0 157.87 1282.0 157.92 1283.0 157.97 1284.0 158.02 1285.0 158.06 1286.0 158.11 1287.0 158.15 1288.0 158.20 1289.0 158.24 1290.0 158.28 1291.0 158.32 1292.0 158.36 1293.0 158.40 1294.0 158.43 1295.0 158.47 1296.0 158.51 1297.0 158.54 1298.0 158.57 1299.0 158.61 1300.0 158.64 1301.0 158.67 1302.0 158.70 1303.0 158.74 1304.0 158.77 1305.0 158.79 1306.0 158.82 1307.0 158.85 1308.0 158.88 1309.0 158.91 1310.0 158.93 1311.0 158.96 1312.0 158.99 1313.0 159.01 1314.0 159.04 1315.0 159.06 1316.0 159.09 1317.0 159.11 1318.0 159.13 1319.0 159.16 1320.0 159.18 1321.0 159.20 1322.0 159.22 1323.0 159.24 1324.0 159.26 1325.0 159.28 1326.0 159.31 1327.0 159.33 1328.0 159.35 1329.0 159.36 1330.0 159.38 1331.0 159.40 1332.0 159.42 1333.0 159.44 1334.0 159.46 1335.0 159.48 1336.0 159.49 1337.0 159.51 1338.0 159.53 1339.0 159.55 1340.0 159.56 1341.0 159.58 1342.0 159.60 1343.0 159.61 1344.0 159.63 1345.0 159.64 1346.0 159.66 1347.0 159.67 1348.0 159.69 1349.0 159.71 1350.0 159.72 1351.0 159.73 1352.0 159.75 1353.0 159.76 1354.0 159.78 1355.0 159.79 1356.0 159.81 1357.0 159.82 1358.0 159.83 1359.0 159.85 1360.0 159.86 1361.0 159.87 1362.0 159.89 1363.0 159.90 1364.0 159.91 1365.0 159.93 1366.0 159.94 1367.0 159.95 1368.0 159.96 1369.0 159.98 1370.0 159.99 1371.0 160.00 1372.0 160.01 1373.0 160.02 1374.0 160.04 1375.0 160.05 1376.0 160.06 1377.0 160.07 1378.0 160.08 1379.0 160.09 1380.0 160.11 1381.0 160.12 1382.0 160.13 1383.0 160.14 1384.0 160.15 1385.0 160.16 1386.0 160.17 1387.0 160.18 1388.0 160.19 1389.0 160.20 1390.0 160.21 1391.0 160.22 1392.0 160.23 1393.0 160.24 1394.0 160.25 1395.0 160.26 1396.0 160.27 1397.0 160.28 1398.0 160.29 1399.0 160.30 1400.0 160.31 1401.0 160.32 1402.0 160.33 1403.0 160.34 1404.0 160.35 1405.0 160.36 1406.0 160.37 1407.0 160.38 1408.0 160.39 1409.0 160.40 1410.0 160.41 1411.0 160.42 1412.0 160.43 1413.0 160.44 1414.0 160.45 1415.0 160.46 1416.0 160.46" fill="none" stroke="#6a2c2c" stroke-width="2.2" stroke-linejoin="round"/>
<text x="1448" y="160.6" class="cl">3nm 10s</text>
<path d="M980.0 240.25 981.0 240.25 982.0 240.25 983.0 240.25 984.0 240.24 985.0 240.24 986.0 240.23 987.0 240.23 988.0 240.23 989.0 240.22 990.0 240.22 991.0 240.22 992.0 240.21 993.0 240.21 994.0 240.20 995.0 240.20 996.0 240.19 997.0 240.19 998.0 240.18 999.0 240.18 1000.0 240.17 1001.0 240.17 1002.0 240.16 1003.0 240.16 1004.0 240.15 1005.0 240.14 1006.0 240.14 1007.0 240.13 1008.0 240.12 1009.0 240.11 1010.0 240.11 1011.0 240.10 1012.0 240.09 1013.0 240.08 1014.0 240.07 1015.0 240.07 1016.0 240.06 1017.0 240.05 1018.0 240.04 1019.0 240.03 1020.0 240.02 1021.0 240.01 1022.0 240.00 1023.0 239.98 1024.0 239.97 1025.0 239.96 1026.0 239.95 1027.0 239.93 1028.0 239.92 1029.0 239.90 1030.0 239.89 1031.0 239.87 1032.0 239.86 1033.0 239.84 1034.0 239.82 1035.0 239.80 1036.0 239.79 1037.0 239.77 1038.0 239.74 1039.0 239.72 1040.0 239.70 1041.0 239.68 1042.0 239.65 1043.0 239.63 1044.0 239.60 1045.0 239.57 1046.0 239.54 1047.0 239.51 1048.0 239.48 1049.0 239.45 1050.0 239.41 1051.0 239.38 1052.0 239.34 1053.0 239.30 1054.0 239.25 1055.0 239.21 1056.0 239.16 1057.0 239.11 1058.0 239.05 1059.0 239.00 1060.0 238.93 1061.0 238.87 1062.0 238.80 1063.0 238.72 1064.0 238.63 1065.0 238.54 1066.0 238.43 1067.0 238.31 1068.0 238.18 1069.0 238.03 1070.0 237.85 1071.0 237.65 1072.0 237.42 1073.0 237.15 1074.0 236.83 1075.0 236.47 1076.0 236.03 1077.0 235.53 1078.0 234.94 1079.0 234.25 1080.0 233.46 1081.0 232.54 1082.0 231.48 1083.0 230.27 1084.0 228.90 1085.0 227.34 1086.0 225.60 1087.0 223.66 1088.0 221.51 1089.0 219.16 1090.0 216.60 1091.0 213.83 1092.0 210.88 1093.0 207.76 1094.0 204.48 1095.0 201.09 1096.0 197.60 1097.0 194.07 1098.0 190.55 1099.0 187.08 1100.0 183.74 1101.0 180.58 1102.0 177.68 1103.0 175.11 1104.0 172.94 1105.0 171.23 1106.0 170.05 1107.0 169.42 1108.0 169.35 1109.0 169.69 1110.0 170.43 1111.0 171.53 1112.0 172.95 1113.0 174.66 1114.0 176.59 1115.0 178.70 1116.0 180.95 1117.0 183.27 1118.0 185.64 1119.0 188.02 1120.0 190.36 1121.0 192.67 1122.0 194.90 1123.0 197.05 1124.0 199.12 1125.0 201.08 1126.0 202.95 1127.0 204.71 1128.0 206.38 1129.0 207.95 1130.0 209.42 1131.0 210.80 1132.0 212.10 1133.0 213.31 1134.0 214.44 1135.0 215.51 1136.0 216.50 1137.0 217.42 1138.0 218.29 1139.0 219.09 1140.0 219.85 1141.0 220.55 1142.0 221.20 1143.0 221.81 1144.0 222.37 1145.0 222.89 1146.0 223.38 1147.0 223.82 1148.0 224.23 1149.0 224.60 1150.0 224.93 1151.0 225.23 1152.0 225.48 1153.0 225.70 1154.0 225.87 1155.0 226.00 1156.0 226.09 1157.0 226.11 1158.0 226.09 1159.0 226.00 1160.0 225.84 1161.0 225.61 1162.0 225.30 1163.0 224.90 1164.0 224.41 1165.0 223.82 1166.0 223.11 1167.0 222.29 1168.0 221.35 1169.0 220.27 1170.0 219.07 1171.0 217.73 1172.0 216.25 1173.0 214.64 1174.0 212.89 1175.0 211.02 1176.0 209.03 1177.0 206.94 1178.0 204.76 1179.0 202.51 1180.0 200.20 1181.0 197.88 1182.0 195.55 1183.0 193.26 1184.0 191.04 1185.0 188.93 1186.0 186.97 1187.0 185.20 1188.0 183.66 1189.0 182.38 1190.0 181.41 1191.0 180.78 1192.0 180.49 1193.0 180.54 1194.0 180.86 1195.0 181.44 1196.0 182.26 1197.0 183.30 1198.0 184.53 1199.0 185.92 1200.0 187.44 1201.0 189.06 1202.0 190.74 1203.0 192.47 1204.0 194.21 1205.0 195.94 1206.0 197.66 1207.0 199.34 1208.0 200.97 1209.0 202.55 1210.0 204.06 1211.0 205.51 1212.0 206.90 1213.0 208.22 1214.0 209.47 1215.0 210.66 1216.0 211.78 1217.0 212.84 1218.0 213.84 1219.0 214.79 1220.0 215.68 1221.0 216.52 1222.0 217.31 1223.0 218.06 1224.0 218.76 1225.0 219.43 1226.0 220.06 1227.0 220.65 1228.0 221.21 1229.0 221.74 1230.0 222.24 1231.0 222.71 1232.0 223.16 1233.0 223.58 1234.0 223.98 1235.0 224.37 1236.0 224.73 1237.0 225.07 1238.0 225.40 1239.0 225.71 1240.0 226.00 1241.0 226.29 1242.0 226.55 1243.0 226.81 1244.0 227.05 1245.0 227.29 1246.0 227.51 1247.0 227.72 1248.0 227.92 1249.0 228.12 1250.0 228.30 1251.0 228.48 1252.0 228.65 1253.0 228.82 1254.0 228.98 1255.0 229.13 1256.0 229.27 1257.0 229.41 1258.0 229.54 1259.0 229.67 1260.0 229.80 1261.0 229.92 1262.0 230.03 1263.0 230.14 1264.0 230.25 1265.0 230.35 1266.0 230.45 1267.0 230.55 1268.0 230.64 1269.0 230.73 1270.0 230.82 1271.0 230.90 1272.0 230.98 1273.0 231.06 1274.0 231.14 1275.0 231.21 1276.0 231.28 1277.0 231.35 1278.0 231.42 1279.0 231.48 1280.0 231.55 1281.0 231.61 1282.0 231.67 1283.0 231.73 1284.0 231.78 1285.0 231.84 1286.0 231.89 1287.0 231.94 1288.0 231.99 1289.0 232.04 1290.0 232.09 1291.0 232.13 1292.0 232.18 1293.0 232.22 1294.0 232.26 1295.0 232.31 1296.0 232.35 1297.0 232.39 1298.0 232.42 1299.0 232.46 1300.0 232.50 1301.0 232.53 1302.0 232.57 1303.0 232.60 1304.0 232.64 1305.0 232.67 1306.0 232.70 1307.0 232.73 1308.0 232.76 1309.0 232.79 1310.0 232.82 1311.0 232.85 1312.0 232.88 1313.0 232.91 1314.0 232.93 1315.0 232.96 1316.0 232.98 1317.0 233.01 1318.0 233.03 1319.0 233.06 1320.0 233.08 1321.0 233.10 1322.0 233.13 1323.0 233.15 1324.0 233.17 1325.0 233.19 1326.0 233.21 1327.0 233.23 1328.0 233.25 1329.0 233.27 1330.0 233.29 1331.0 233.31 1332.0 233.33 1333.0 233.35 1334.0 233.36 1335.0 233.38 1336.0 233.40 1337.0 233.42 1338.0 233.43 1339.0 233.45 1340.0 233.47 1341.0 233.48 1342.0 233.50 1343.0 233.51 1344.0 233.53 1345.0 233.54 1346.0 233.56 1347.0 233.57 1348.0 233.59 1349.0 233.60 1350.0 233.61 1351.0 233.63 1352.0 233.64 1353.0 233.65 1354.0 233.67 1355.0 233.68 1356.0 233.69 1357.0 233.70 1358.0 233.71 1359.0 233.73 1360.0 233.74 1361.0 233.75 1362.0 233.76 1363.0 233.77 1364.0 233.78 1365.0 233.79 1366.0 233.80 1367.0 233.82 1368.0 233.83 1369.0 233.84 1370.0 233.85 1371.0 233.86 1372.0 233.87 1373.0 233.88 1374.0 233.89 1375.0 233.90 1376.0 233.90 1377.0 233.91 1378.0 233.92 1379.0 233.93 1380.0 233.94 1381.0 233.95 1382.0 233.96 1383.0 233.97 1384.0 233.98 1385.0 233.98 1386.0 233.99 1387.0 234.00 1388.0 234.01 1389.0 234.02 1390.0 234.02 1391.0 234.03 1392.0 234.04 1393.0 234.05 1394.0 234.05 1395.0 234.06 1396.0 234.07 1397.0 234.08 1398.0 234.08 1399.0 234.09 1400.0 234.10 1401.0 234.10 1402.0 234.11 1403.0 234.12 1404.0 234.13 1405.0 234.13 1406.0 234.14 1407.0 234.14 1408.0 234.15 1409.0 234.16 1410.0 234.16 1411.0 234.17 1412.0 234.18 1413.0 234.18 1414.0 234.19 1415.0 234.19 1416.0 234.20" fill="none" stroke="#b0b0e0" stroke-width="3.6" stroke-linejoin="round"/>
<path d="M980.0 240.25 981.0 240.25 982.0 240.25 983.0 240.25 984.0 240.24 985.0 240.24 986.0 240.23 987.0 240.23 988.0 240.23 989.0 240.22 990.0 240.22 991.0 240.22 992.0 240.21 993.0 240.21 994.0 240.20 995.0 240.20 996.0 240.19 997.0 240.19 998.0 240.18 999.0 240.18 1000.0 240.17 1001.0 240.17 1002.0 240.16 1003.0 240.16 1004.0 240.15 1005.0 240.14 1006.0 240.14 1007.0 240.13 1008.0 240.12 1009.0 240.11 1010.0 240.11 1011.0 240.10 1012.0 240.09 1013.0 240.08 1014.0 240.07 1015.0 240.07 1016.0 240.06 1017.0 240.05 1018.0 240.04 1019.0 240.03 1020.0 240.02 1021.0 240.01 1022.0 240.00 1023.0 239.98 1024.0 239.97 1025.0 239.96 1026.0 239.95 1027.0 239.93 1028.0 239.92 1029.0 239.90 1030.0 239.89 1031.0 239.87 1032.0 239.86 1033.0 239.84 1034.0 239.82 1035.0 239.80 1036.0 239.79 1037.0 239.77 1038.0 239.74 1039.0 239.72 1040.0 239.70 1041.0 239.68 1042.0 239.65 1043.0 239.63 1044.0 239.60 1045.0 239.57 1046.0 239.54 1047.0 239.51 1048.0 239.48 1049.0 239.45 1050.0 239.41 1051.0 239.38 1052.0 239.34 1053.0 239.30 1054.0 239.25 1055.0 239.21 1056.0 239.16 1057.0 239.11 1058.0 239.05 1059.0 239.00 1060.0 238.93 1061.0 238.87 1062.0 238.80 1063.0 238.72 1064.0 238.63 1065.0 238.54 1066.0 238.43 1067.0 238.31 1068.0 238.18 1069.0 238.03 1070.0 237.85 1071.0 237.65 1072.0 237.42 1073.0 237.15 1074.0 236.83 1075.0 236.47 1076.0 236.03 1077.0 235.53 1078.0 234.94 1079.0 234.25 1080.0 233.46 1081.0 232.54 1082.0 231.48 1083.0 230.27 1084.0 228.90 1085.0 227.34 1086.0 225.60 1087.0 223.66 1088.0 221.51 1089.0 219.16 1090.0 216.60 1091.0 213.83 1092.0 210.88 1093.0 207.76 1094.0 204.48 1095.0 201.09 1096.0 197.60 1097.0 194.07 1098.0 190.55 1099.0 187.08 1100.0 183.74 1101.0 180.58 1102.0 177.68 1103.0 175.11 1104.0 172.94 1105.0 171.23 1106.0 170.05 1107.0 169.42 1108.0 169.35 1109.0 169.69 1110.0 170.43 1111.0 171.53 1112.0 172.95 1113.0 174.66 1114.0 176.59 1115.0 178.70 1116.0 180.95 1117.0 183.27 1118.0 185.64 1119.0 188.02 1120.0 190.36 1121.0 192.67 1122.0 194.90 1123.0 197.05 1124.0 199.12 1125.0 201.08 1126.0 202.95 1127.0 204.71 1128.0 206.38 1129.0 207.95 1130.0 209.42 1131.0 210.80 1132.0 212.10 1133.0 213.31 1134.0 214.44 1135.0 215.51 1136.0 216.50 1137.0 217.42 1138.0 218.29 1139.0 219.09 1140.0 219.85 1141.0 220.55 1142.0 221.20 1143.0 221.81 1144.0 222.37 1145.0 222.89 1146.0 223.38 1147.0 223.82 1148.0 224.23 1149.0 224.60 1150.0 224.93 1151.0 225.23 1152.0 225.48 1153.0 225.70 1154.0 225.87 1155.0 226.00 1156.0 226.09 1157.0 226.11 1158.0 226.09 1159.0 226.00 1160.0 225.84 1161.0 225.61 1162.0 225.30 1163.0 224.90 1164.0 224.41 1165.0 223.82 1166.0 223.11 1167.0 222.29 1168.0 221.35 1169.0 220.27 1170.0 219.07 1171.0 217.73 1172.0 216.25 1173.0 214.64 1174.0 212.89 1175.0 211.02 1176.0 209.03 1177.0 206.94 1178.0 204.76 1179.0 202.51 1180.0 200.20 1181.0 197.88 1182.0 195.55 1183.0 193.26 1184.0 191.04 1185.0 188.93 1186.0 186.97 1187.0 185.20 1188.0 183.66 1189.0 182.38 1190.0 181.41 1191.0 180.78 1192.0 180.49 1193.0 180.54 1194.0 180.86 1195.0 181.44 1196.0 182.26 1197.0 183.30 1198.0 184.53 1199.0 185.92 1200.0 187.44 1201.0 189.06 1202.0 190.74 1203.0 192.47 1204.0 194.21 1205.0 195.94 1206.0 197.66 1207.0 199.34 1208.0 200.97 1209.0 202.55 1210.0 204.06 1211.0 205.51 1212.0 206.90 1213.0 208.22 1214.0 209.47 1215.0 210.66 1216.0 211.78 1217.0 212.84 1218.0 213.84 1219.0 214.79 1220.0 215.68 1221.0 216.52 1222.0 217.31 1223.0 218.06 1224.0 218.76 1225.0 219.43 1226.0 220.06 1227.0 220.65 1228.0 221.21 1229.0 221.74 1230.0 222.24 1231.0 222.71 1232.0 223.16 1233.0 223.58 1234.0 223.98 1235.0 224.37 1236.0 224.73 1237.0 225.07 1238.0 225.40 1239.0 225.71 1240.0 226.00 1241.0 226.29 1242.0 226.55 1243.0 226.81 1244.0 227.05 1245.0 227.29 1246.0 227.51 1247.0 227.72 1248.0 227.92 1249.0 228.12 1250.0 228.30 1251.0 228.48 1252.0 228.65 1253.0 228.82 1254.0 228.98 1255.0 229.13 1256.0 229.27 1257.0 229.41 1258.0 229.54 1259.0 229.67 1260.0 229.80 1261.0 229.92 1262.0 230.03 1263.0 230.14 1264.0 230.25 1265.0 230.35 1266.0 230.45 1267.0 230.55 1268.0 230.64 1269.0 230.73 1270.0 230.82 1271.0 230.90 1272.0 230.98 1273.0 231.06 1274.0 231.14 1275.0 231.21 1276.0 231.28 1277.0 231.35 1278.0 231.42 1279.0 231.48 1280.0 231.55 1281.0 231.61 1282.0 231.67 1283.0 231.73 1284.0 231.78 1285.0 231.84 1286.0 231.89 1287.0 231.94 1288.0 231.99 1289.0 232.04 1290.0 232.09 1291.0 232.13 1292.0 232.18 1293.0 232.22 1294.0 232.26 1295.0 232.31 1296.0 232.35 1297.0 232.39 1298.0 232.42 1299.0 232.46 1300.0 232.50 1301.0 232.53 1302.0 232.57 1303.0 232.60 1304.0 232.64 1305.0 232.67 1306.0 232.70 1307.0 232.73 1308.0 232.76 1309.0 232.79 1310.0 232.82 1311.0 232.85 1312.0 232.88 1313.0 232.91 1314.0 232.93 1315.0 232.96 1316.0 232.98 1317.0 233.01 1318.0 233.03 1319.0 233.06 1320.0 233.08 1321.0 233.10 1322.0 233.13 1323.0 233.15 1324.0 233.17 1325.0 233.19 1326.0 233.21 1327.0 233.23 1328.0 233.25 1329.0 233.27 1330.0 233.29 1331.0 233.31 1332.0 233.33 1333.0 233.35 1334.0 233.36 1335.0 233.38 1336.0 233.40 1337.0 233.42 1338.0 233.43 1339.0 233.45 1340.0 233.47 1341.0 233.48 1342.0 233.50 1343.0 233.51 1344.0 233.53 1345.0 233.54 1346.0 233.56 1347.0 233.57 1348.0 233.59 1349.0 233.60 1350.0 233.61 1351.0 233.63 1352.0 233.64 1353.0 233.65 1354.0 233.67 1355.0 233.68 1356.0 233.69 1357.0 233.70 1358.0 233.71 1359.0 233.73 1360.0 233.74 1361.0 233.75 1362.0 233.76 1363.0 233.77 1364.0 233.78 1365.0 233.79 1366.0 233.80 1367.0 233.82 1368.0 233.83 1369.0 233.84 1370.0 233.85 1371.0 233.86 1372.0 233.87 1373.0 233.88 1374.0 233.89 1375.0 233.90 1376.0 233.90 1377.0 233.91 1378.0 233.92 1379.0 233.93 1380.0 233.94 1381.0 233.95 1382.0 233.96 1383.0 233.97 1384.0 233.98 1385.0 233.98 1386.0 233.99 1387.0 234.00 1388.0 234.01 1389.0 234.02 1390.0 234.02 1391.0 234.03 1392.0 234.04 1393.0 234.05 1394.0 234.05 1395.0 234.06 1396.0 234.07 1397.0 234.08 1398.0 234.08 1399.0 234.09 1400.0 234.10 1401.0 234.10 1402.0 234.11 1403.0 234.12 1404.0 234.13 1405.0 234.13 1406.0 234.14 1407.0 234.14 1408.0 234.15 1409.0 234.16 1410.0 234.16 1411.0 234.17 1412.0 234.18 1413.0 234.18 1414.0 234.19 1415.0 234.19 1416.0 234.20" fill="none" stroke="#1c1c50" stroke-width="2.2" stroke-linejoin="round"/>
<text x="1446.5" y="236.9" class="cl">3nm 20s</text>
<path d="M980.0 313.79 981.0 313.79 982.0 313.78 983.0 313.78 984.0 313.77 985.0 313.77 986.0 313.76 987.0 313.75 988.0 313.75 989.0 313.74 990.0 313.74 991.0 313.73 992.0 313.73 993.0 313.72 994.0 313.71 995.0 313.71 996.0 313.70 997.0 313.69 998.0 313.68 999.0 313.68 1000.0 313.67 1001.0 313.66 1002.0 313.65 1003.0 313.64 1004.0 313.64 1005.0 313.63 1006.0 313.62 1007.0 313.61 1008.0 313.60 1009.0 313.59 1010.0 313.58 1011.0 313.57 1012.0 313.56 1013.0 313.55 1014.0 313.54 1015.0 313.52 1016.0 313.51 1017.0 313.50 1018.0 313.49 1019.0 313.47 1020.0 313.46 1021.0 313.44 1022.0 313.43 1023.0 313.41 1024.0 313.40 1025.0 313.38 1026.0 313.36 1027.0 313.35 1028.0 313.33 1029.0 313.31 1030.0 313.29 1031.0 313.27 1032.0 313.25 1033.0 313.23 1034.0 313.20 1035.0 313.18 1036.0 313.16 1037.0 313.13 1038.0 313.11 1039.0 313.08 1040.0 313.05 1041.0 313.02 1042.0 312.99 1043.0 312.96 1044.0 312.92 1045.0 312.89 1046.0 312.85 1047.0 312.81 1048.0 312.77 1049.0 312.73 1050.0 312.69 1051.0 312.64 1052.0 312.59 1053.0 312.54 1054.0 312.49 1055.0 312.43 1056.0 312.37 1057.0 312.31 1058.0 312.24 1059.0 312.17 1060.0 312.09 1061.0 312.01 1062.0 311.92 1063.0 311.83 1064.0 311.72 1065.0 311.61 1066.0 311.48 1067.0 311.34 1068.0 311.19 1069.0 311.01 1070.0 310.81 1071.0 310.59 1072.0 310.33 1073.0 310.03 1074.0 309.69 1075.0 309.30 1076.0 308.84 1077.0 308.32 1078.0 307.71 1079.0 307.01 1080.0 306.21 1081.0 305.29 1082.0 304.25 1083.0 303.06 1084.0 301.72 1085.0 300.21 1086.0 298.54 1087.0 296.67 1088.0 294.62 1089.0 292.38 1090.0 289.95 1091.0 287.33 1092.0 284.52 1093.0 281.56 1094.0 278.44 1095.0 275.19 1096.0 271.86 1097.0 268.45 1098.0 265.03 1099.0 261.64 1100.0 258.33 1101.0 255.17 1102.0 252.21 1103.0 249.53 1104.0 247.20 1105.0 245.28 1106.0 243.83 1107.0 242.91 1108.0 242.54 1109.0 242.63 1110.0 243.10 1111.0 243.93 1112.0 245.08 1113.0 246.52 1114.0 248.21 1115.0 250.10 1116.0 252.15 1117.0 254.32 1118.0 256.56 1119.0 258.84 1120.0 261.12 1121.0 263.38 1122.0 265.60 1123.0 267.75 1124.0 269.84 1125.0 271.84 1126.0 273.75 1127.0 275.57 1128.0 277.29 1129.0 278.93 1130.0 280.47 1131.0 281.92 1132.0 283.28 1133.0 284.57 1134.0 285.77 1135.0 286.90 1136.0 287.95 1137.0 288.94 1138.0 289.87 1139.0 290.73 1140.0 291.54 1141.0 292.30 1142.0 293.00 1143.0 293.66 1144.0 294.27 1145.0 294.84 1146.0 295.37 1147.0 295.85 1148.0 296.30 1149.0 296.71 1150.0 297.09 1151.0 297.42 1152.0 297.72 1153.0 297.98 1154.0 298.20 1155.0 298.37 1156.0 298.51 1157.0 298.59 1158.0 298.62 1159.0 298.60 1160.0 298.52 1161.0 298.36 1162.0 298.14 1163.0 297.83 1164.0 297.44 1165.0 296.96 1166.0 296.37 1167.0 295.67 1168.0 294.86 1169.0 293.92 1170.0 292.86 1171.0 291.66 1172.0 290.33 1173.0 288.86 1174.0 287.25 1175.0 285.51 1176.0 283.64 1177.0 281.65 1178.0 279.55 1179.0 277.36 1180.0 275.10 1181.0 272.78 1182.0 270.43 1183.0 268.09 1184.0 265.78 1185.0 263.54 1186.0 261.42 1187.0 259.45 1188.0 257.69 1189.0 256.17 1190.0 254.94 1191.0 254.04 1192.0 253.49 1193.0 253.32 1194.0 253.46 1195.0 253.86 1196.0 254.51 1197.0 255.38 1198.0 256.46 1199.0 257.71 1200.0 259.11 1201.0 260.63 1202.0 262.24 1203.0 263.91 1204.0 265.61 1205.0 267.33 1206.0 269.04 1207.0 270.73 1208.0 272.38 1209.0 273.99 1210.0 275.55 1211.0 277.04 1212.0 278.48 1213.0 279.84 1214.0 281.15 1215.0 282.39 1216.0 283.56 1217.0 284.68 1218.0 285.73 1219.0 286.73 1220.0 287.67 1221.0 288.56 1222.0 289.40 1223.0 290.19 1224.0 290.94 1225.0 291.64 1226.0 292.31 1227.0 292.94 1228.0 293.54 1229.0 294.10 1230.0 294.63 1231.0 295.14 1232.0 295.61 1233.0 296.07 1234.0 296.50 1235.0 296.90 1236.0 297.29 1237.0 297.65 1238.0 298.00 1239.0 298.33 1240.0 298.65 1241.0 298.95 1242.0 299.23 1243.0 299.51 1244.0 299.77 1245.0 300.01 1246.0 300.25 1247.0 300.48 1248.0 300.69 1249.0 300.90 1250.0 301.10 1251.0 301.29 1252.0 301.47 1253.0 301.64 1254.0 301.81 1255.0 301.97 1256.0 302.13 1257.0 302.27 1258.0 302.42 1259.0 302.55 1260.0 302.68 1261.0 302.81 1262.0 302.93 1263.0 303.05 1264.0 303.16 1265.0 303.27 1266.0 303.38 1267.0 303.48 1268.0 303.58 1269.0 303.67 1270.0 303.77 1271.0 303.85 1272.0 303.94 1273.0 304.02 1274.0 304.10 1275.0 304.18 1276.0 304.26 1277.0 304.33 1278.0 304.40 1279.0 304.47 1280.0 304.54 1281.0 304.60 1282.0 304.66 1283.0 304.72 1284.0 304.78 1285.0 304.84 1286.0 304.90 1287.0 304.95 1288.0 305.00 1289.0 305.05 1290.0 305.10 1291.0 305.15 1292.0 305.20 1293.0 305.25 1294.0 305.29 1295.0 305.33 1296.0 305.38 1297.0 305.42 1298.0 305.46 1299.0 305.50 1300.0 305.54 1301.0 305.57 1302.0 305.61 1303.0 305.65 1304.0 305.68 1305.0 305.71 1306.0 305.75 1307.0 305.78 1308.0 305.81 1309.0 305.84 1310.0 305.87 1311.0 305.90 1312.0 305.93 1313.0 305.96 1314.0 305.99 1315.0 306.01 1316.0 306.04 1317.0 306.07 1318.0 306.09 1319.0 306.12 1320.0 306.14 1321.0 306.16 1322.0 306.19 1323.0 306.21 1324.0 306.23 1325.0 306.25 1326.0 306.27 1327.0 306.30 1328.0 306.32 1329.0 306.34 1330.0 306.36 1331.0 306.38 1332.0 306.39 1333.0 306.41 1334.0 306.43 1335.0 306.45 1336.0 306.47 1337.0 306.48 1338.0 306.50 1339.0 306.52 1340.0 306.54 1341.0 306.55 1342.0 306.57 1343.0 306.58 1344.0 306.60 1345.0 306.61 1346.0 306.63 1347.0 306.64 1348.0 306.66 1349.0 306.67 1350.0 306.68 1351.0 306.70 1352.0 306.71 1353.0 306.72 1354.0 306.74 1355.0 306.75 1356.0 306.76 1357.0 306.77 1358.0 306.79 1359.0 306.80 1360.0 306.81 1361.0 306.82 1362.0 306.83 1363.0 306.84 1364.0 306.86 1365.0 306.87 1366.0 306.88 1367.0 306.89 1368.0 306.90 1369.0 306.91 1370.0 306.92 1371.0 306.93 1372.0 306.94 1373.0 306.95 1374.0 306.96 1375.0 306.97 1376.0 306.98 1377.0 306.98 1378.0 306.99 1379.0 307.00 1380.0 307.01 1381.0 307.02 1382.0 307.03 1383.0 307.04 1384.0 307.04 1385.0 307.05 1386.0 307.06 1387.0 307.07 1388.0 307.08 1389.0 307.08 1390.0 307.09 1391.0 307.10 1392.0 307.11 1393.0 307.11 1394.0 307.12 1395.0 307.13 1396.0 307.14 1397.0 307.14 1398.0 307.15 1399.0 307.16 1400.0 307.16 1401.0 307.17 1402.0 307.18 1403.0 307.18 1404.0 307.19 1405.0 307.20 1406.0 307.20 1407.0 307.21 1408.0 307.21 1409.0 307.22 1410.0 307.23 1411.0 307.23 1412.0 307.24 1413.0 307.24 1414.0 307.25 1415.0 307.26 1416.0 307.26" fill="none" stroke="#b4d8d2" stroke-width="3.6" stroke-linejoin="round"/>
<path d="M980.0 313.79 981.0 313.79 982.0 313.78 983.0 313.78 984.0 313.77 985.0 313.77 986.0 313.76 987.0 313.75 988.0 313.75 989.0 313.74 990.0 313.74 991.0 313.73 992.0 313.73 993.0 313.72 994.0 313.71 995.0 313.71 996.0 313.70 997.0 313.69 998.0 313.68 999.0 313.68 1000.0 313.67 1001.0 313.66 1002.0 313.65 1003.0 313.64 1004.0 313.64 1005.0 313.63 1006.0 313.62 1007.0 313.61 1008.0 313.60 1009.0 313.59 1010.0 313.58 1011.0 313.57 1012.0 313.56 1013.0 313.55 1014.0 313.54 1015.0 313.52 1016.0 313.51 1017.0 313.50 1018.0 313.49 1019.0 313.47 1020.0 313.46 1021.0 313.44 1022.0 313.43 1023.0 313.41 1024.0 313.40 1025.0 313.38 1026.0 313.36 1027.0 313.35 1028.0 313.33 1029.0 313.31 1030.0 313.29 1031.0 313.27 1032.0 313.25 1033.0 313.23 1034.0 313.20 1035.0 313.18 1036.0 313.16 1037.0 313.13 1038.0 313.11 1039.0 313.08 1040.0 313.05 1041.0 313.02 1042.0 312.99 1043.0 312.96 1044.0 312.92 1045.0 312.89 1046.0 312.85 1047.0 312.81 1048.0 312.77 1049.0 312.73 1050.0 312.69 1051.0 312.64 1052.0 312.59 1053.0 312.54 1054.0 312.49 1055.0 312.43 1056.0 312.37 1057.0 312.31 1058.0 312.24 1059.0 312.17 1060.0 312.09 1061.0 312.01 1062.0 311.92 1063.0 311.83 1064.0 311.72 1065.0 311.61 1066.0 311.48 1067.0 311.34 1068.0 311.19 1069.0 311.01 1070.0 310.81 1071.0 310.59 1072.0 310.33 1073.0 310.03 1074.0 309.69 1075.0 309.30 1076.0 308.84 1077.0 308.32 1078.0 307.71 1079.0 307.01 1080.0 306.21 1081.0 305.29 1082.0 304.25 1083.0 303.06 1084.0 301.72 1085.0 300.21 1086.0 298.54 1087.0 296.67 1088.0 294.62 1089.0 292.38 1090.0 289.95 1091.0 287.33 1092.0 284.52 1093.0 281.56 1094.0 278.44 1095.0 275.19 1096.0 271.86 1097.0 268.45 1098.0 265.03 1099.0 261.64 1100.0 258.33 1101.0 255.17 1102.0 252.21 1103.0 249.53 1104.0 247.20 1105.0 245.28 1106.0 243.83 1107.0 242.91 1108.0 242.54 1109.0 242.63 1110.0 243.10 1111.0 243.93 1112.0 245.08 1113.0 246.52 1114.0 248.21 1115.0 250.10 1116.0 252.15 1117.0 254.32 1118.0 256.56 1119.0 258.84 1120.0 261.12 1121.0 263.38 1122.0 265.60 1123.0 267.75 1124.0 269.84 1125.0 271.84 1126.0 273.75 1127.0 275.57 1128.0 277.29 1129.0 278.93 1130.0 280.47 1131.0 281.92 1132.0 283.28 1133.0 284.57 1134.0 285.77 1135.0 286.90 1136.0 287.95 1137.0 288.94 1138.0 289.87 1139.0 290.73 1140.0 291.54 1141.0 292.30 1142.0 293.00 1143.0 293.66 1144.0 294.27 1145.0 294.84 1146.0 295.37 1147.0 295.85 1148.0 296.30 1149.0 296.71 1150.0 297.09 1151.0 297.42 1152.0 297.72 1153.0 297.98 1154.0 298.20 1155.0 298.37 1156.0 298.51 1157.0 298.59 1158.0 298.62 1159.0 298.60 1160.0 298.52 1161.0 298.36 1162.0 298.14 1163.0 297.83 1164.0 297.44 1165.0 296.96 1166.0 296.37 1167.0 295.67 1168.0 294.86 1169.0 293.92 1170.0 292.86 1171.0 291.66 1172.0 290.33 1173.0 288.86 1174.0 287.25 1175.0 285.51 1176.0 283.64 1177.0 281.65 1178.0 279.55 1179.0 277.36 1180.0 275.10 1181.0 272.78 1182.0 270.43 1183.0 268.09 1184.0 265.78 1185.0 263.54 1186.0 261.42 1187.0 259.45 1188.0 257.69 1189.0 256.17 1190.0 254.94 1191.0 254.04 1192.0 253.49 1193.0 253.32 1194.0 253.46 1195.0 253.86 1196.0 254.51 1197.0 255.38 1198.0 256.46 1199.0 257.71 1200.0 259.11 1201.0 260.63 1202.0 262.24 1203.0 263.91 1204.0 265.61 1205.0 267.33 1206.0 269.04 1207.0 270.73 1208.0 272.38 1209.0 273.99 1210.0 275.55 1211.0 277.04 1212.0 278.48 1213.0 279.84 1214.0 281.15 1215.0 282.39 1216.0 283.56 1217.0 284.68 1218.0 285.73 1219.0 286.73 1220.0 287.67 1221.0 288.56 1222.0 289.40 1223.0 290.19 1224.0 290.94 1225.0 291.64 1226.0 292.31 1227.0 292.94 1228.0 293.54 1229.0 294.10 1230.0 294.63 1231.0 295.14 1232.0 295.61 1233.0 296.07 1234.0 296.50 1235.0 296.90 1236.0 297.29 1237.0 297.65 1238.0 298.00 1239.0 298.33 1240.0 298.65 1241.0 298.95 1242.0 299.23 1243.0 299.51 1244.0 299.77 1245.0 300.01 1246.0 300.25 1247.0 300.48 1248.0 300.69 1249.0 300.90 1250.0 301.10 1251.0 301.29 1252.0 301.47 1253.0 301.64 1254.0 301.81 1255.0 301.97 1256.0 302.13 1257.0 302.27 1258.0 302.42 1259.0 302.55 1260.0 302.68 1261.0 302.81 1262.0 302.93 1263.0 303.05 1264.0 303.16 1265.0 303.27 1266.0 303.38 1267.0 303.48 1268.0 303.58 1269.0 303.67 1270.0 303.77 1271.0 303.85 1272.0 303.94 1273.0 304.02 1274.0 304.10 1275.0 304.18 1276.0 304.26 1277.0 304.33 1278.0 304.40 1279.0 304.47 1280.0 304.54 1281.0 304.60 1282.0 304.66 1283.0 304.72 1284.0 304.78 1285.0 304.84 1286.0 304.90 1287.0 304.95 1288.0 305.00 1289.0 305.05 1290.0 305.10 1291.0 305.15 1292.0 305.20 1293.0 305.25 1294.0 305.29 1295.0 305.33 1296.0 305.38 1297.0 305.42 1298.0 305.46 1299.0 305.50 1300.0 305.54 1301.0 305.57 1302.0 305.61 1303.0 305.65 1304.0 305.68 1305.0 305.71 1306.0 305.75 1307.0 305.78 1308.0 305.81 1309.0 305.84 1310.0 305.87 1311.0 305.90 1312.0 305.93 1313.0 305.96 1314.0 305.99 1315.0 306.01 1316.0 306.04 1317.0 306.07 1318.0 306.09 1319.0 306.12 1320.0 306.14 1321.0 306.16 1322.0 306.19 1323.0 306.21 1324.0 306.23 1325.0 306.25 1326.0 306.27 1327.0 306.30 1328.0 306.32 1329.0 306.34 1330.0 306.36 1331.0 306.38 1332.0 306.39 1333.0 306.41 1334.0 306.43 1335.0 306.45 1336.0 306.47 1337.0 306.48 1338.0 306.50 1339.0 306.52 1340.0 306.54 1341.0 306.55 1342.0 306.57 1343.0 306.58 1344.0 306.60 1345.0 306.61 1346.0 306.63 1347.0 306.64 1348.0 306.66 1349.0 306.67 1350.0 306.68 1351.0 306.70 1352.0 306.71 1353.0 306.72 1354.0 306.74 1355.0 306.75 1356.0 306.76 1357.0 306.77 1358.0 306.79 1359.0 306.80 1360.0 306.81 1361.0 306.82 1362.0 306.83 1363.0 306.84 1364.0 306.86 1365.0 306.87 1366.0 306.88 1367.0 306.89 1368.0 306.90 1369.0 306.91 1370.0 306.92 1371.0 306.93 1372.0 306.94 1373.0 306.95 1374.0 306.96 1375.0 306.97 1376.0 306.98 1377.0 306.98 1378.0 306.99 1379.0 307.00 1380.0 307.01 1381.0 307.02 1382.0 307.03 1383.0 307.04 1384.0 307.04 1385.0 307.05 1386.0 307.06 1387.0 307.07 1388.0 307.08 1389.0 307.08 1390.0 307.09 1391.0 307.10 1392.0 307.11 1393.0 307.11 1394.0 307.12 1395.0 307.13 1396.0 307.14 1397.0 307.14 1398.0 307.15 1399.0 307.16 1400.0 307.16 1401.0 307.17 1402.0 307.18 1403.0 307.18 1404.0 307.19 1405.0 307.20 1406.0 307.20 1407.0 307.21 1408.0 307.21 1409.0 307.22 1410.0 307.23 1411.0 307.23 1412.0 307.24 1413.0 307.24 1414.0 307.25 1415.0 307.26 1416.0 307.26" fill="none" stroke="#2a4c48" stroke-width="2.2" stroke-linejoin="round"/>
<text x="1448.5" y="309.6" class="cl">3nm 30s</text>
<path d="M980.0 387.65 981.0 387.65 982.0 387.64 983.0 387.64 984.0 387.64 985.0 387.64 986.0 387.63 987.0 387.63 988.0 387.62 989.0 387.62 990.0 387.62 991.0 387.61 992.0 387.61 993.0 387.60 994.0 387.60 995.0 387.60 996.0 387.59 997.0 387.59 998.0 387.58 999.0 387.57 1000.0 387.57 1001.0 387.56 1002.0 387.56 1003.0 387.55 1004.0 387.54 1005.0 387.54 1006.0 387.53 1007.0 387.52 1008.0 387.51 1009.0 387.51 1010.0 387.50 1011.0 387.49 1012.0 387.48 1013.0 387.47 1014.0 387.46 1015.0 387.45 1016.0 387.44 1017.0 387.43 1018.0 387.42 1019.0 387.41 1020.0 387.39 1021.0 387.38 1022.0 387.37 1023.0 387.35 1024.0 387.34 1025.0 387.32 1026.0 387.31 1027.0 387.29 1028.0 387.28 1029.0 387.26 1030.0 387.24 1031.0 387.22 1032.0 387.20 1033.0 387.18 1034.0 387.16 1035.0 387.14 1036.0 387.12 1037.0 387.09 1038.0 387.07 1039.0 387.04 1040.0 387.01 1041.0 386.99 1042.0 386.96 1043.0 386.92 1044.0 386.89 1045.0 386.86 1046.0 386.82 1047.0 386.79 1048.0 386.75 1049.0 386.71 1050.0 386.66 1051.0 386.62 1052.0 386.57 1053.0 386.52 1054.0 386.47 1055.0 386.41 1056.0 386.35 1057.0 386.29 1058.0 386.22 1059.0 386.15 1060.0 386.08 1061.0 386.00 1062.0 385.91 1063.0 385.82 1064.0 385.71 1065.0 385.60 1066.0 385.48 1067.0 385.34 1068.0 385.19 1069.0 385.02 1070.0 384.83 1071.0 384.61 1072.0 384.36 1073.0 384.08 1074.0 383.76 1075.0 383.39 1076.0 382.96 1077.0 382.47 1078.0 381.90 1079.0 381.25 1080.0 380.51 1081.0 379.66 1082.0 378.69 1083.0 377.60 1084.0 376.36 1085.0 374.97 1086.0 373.42 1087.0 371.70 1088.0 369.81 1089.0 367.73 1090.0 365.47 1091.0 363.02 1092.0 360.40 1093.0 357.62 1094.0 354.68 1095.0 351.60 1096.0 348.41 1097.0 345.14 1098.0 341.82 1099.0 338.49 1100.0 335.21 1101.0 332.01 1102.0 328.97 1103.0 326.14 1104.0 323.59 1105.0 321.39 1106.0 319.60 1107.0 318.27 1108.0 317.45 1109.0 317.16 1110.0 317.26 1111.0 317.65 1112.0 318.32 1113.0 319.25 1114.0 320.41 1115.0 321.79 1116.0 323.35 1117.0 325.06 1118.0 326.88 1119.0 328.79 1120.0 330.76 1121.0 332.76 1122.0 334.77 1123.0 336.77 1124.0 338.74 1125.0 340.68 1126.0 342.56 1127.0 344.39 1128.0 346.15 1129.0 347.85 1130.0 349.47 1131.0 351.02 1132.0 352.50 1133.0 353.90 1134.0 355.23 1135.0 356.49 1136.0 357.69 1137.0 358.81 1138.0 359.88 1139.0 360.88 1140.0 361.83 1141.0 362.71 1142.0 363.55 1143.0 364.33 1144.0 365.07 1145.0 365.76 1146.0 366.40 1147.0 367.00 1148.0 367.56 1149.0 368.08 1150.0 368.56 1151.0 369.00 1152.0 369.40 1153.0 369.76 1154.0 370.08 1155.0 370.36 1156.0 370.60 1157.0 370.80 1158.0 370.94 1159.0 371.04 1160.0 371.08 1161.0 371.06 1162.0 370.98 1163.0 370.83 1164.0 370.59 1165.0 370.28 1166.0 369.87 1167.0 369.36 1168.0 368.74 1169.0 368.01 1170.0 367.16 1171.0 366.17 1172.0 365.06 1173.0 363.80 1174.0 362.40 1175.0 360.86 1176.0 359.19 1177.0 357.37 1178.0 355.43 1179.0 353.37 1180.0 351.20 1181.0 348.95 1182.0 346.63 1183.0 344.26 1184.0 341.89 1185.0 339.54 1186.0 337.24 1187.0 335.05 1188.0 333.01 1189.0 331.15 1190.0 329.54 1191.0 328.22 1192.0 327.23 1193.0 326.59 1194.0 326.35 1195.0 326.45 1196.0 326.79 1197.0 327.37 1198.0 328.17 1199.0 329.17 1200.0 330.35 1201.0 331.68 1202.0 333.13 1203.0 334.67 1204.0 336.29 1205.0 337.95 1206.0 339.63 1207.0 341.32 1208.0 342.99 1209.0 344.64 1210.0 346.25 1211.0 347.82 1212.0 349.33 1213.0 350.78 1214.0 352.18 1215.0 353.52 1216.0 354.79 1217.0 356.01 1218.0 357.16 1219.0 358.25 1220.0 359.29 1221.0 360.27 1222.0 361.20 1223.0 362.08 1224.0 362.91 1225.0 363.69 1226.0 364.43 1227.0 365.13 1228.0 365.80 1229.0 366.42 1230.0 367.01 1231.0 367.57 1232.0 368.10 1233.0 368.60 1234.0 369.07 1235.0 369.52 1236.0 369.95 1237.0 370.35 1238.0 370.73 1239.0 371.09 1240.0 371.44 1241.0 371.76 1242.0 372.07 1243.0 372.37 1244.0 372.65 1245.0 372.92 1246.0 373.18 1247.0 373.42 1248.0 373.65 1249.0 373.88 1250.0 374.09 1251.0 374.29 1252.0 374.49 1253.0 374.68 1254.0 374.85 1255.0 375.03 1256.0 375.19 1257.0 375.35 1258.0 375.50 1259.0 375.65 1260.0 375.79 1261.0 375.93 1262.0 376.06 1263.0 376.18 1264.0 376.31 1265.0 376.42 1266.0 376.54 1267.0 376.64 1268.0 376.75 1269.0 376.85 1270.0 376.95 1271.0 377.05 1272.0 377.14 1273.0 377.23 1274.0 377.32 1275.0 377.40 1276.0 377.48 1277.0 377.56 1278.0 377.64 1279.0 377.71 1280.0 377.78 1281.0 377.85 1282.0 377.92 1283.0 377.99 1284.0 378.05 1285.0 378.11 1286.0 378.17 1287.0 378.23 1288.0 378.29 1289.0 378.35 1290.0 378.40 1291.0 378.45 1292.0 378.51 1293.0 378.56 1294.0 378.61 1295.0 378.65 1296.0 378.70 1297.0 378.75 1298.0 378.79 1299.0 378.83 1300.0 378.88 1301.0 378.92 1302.0 378.96 1303.0 379.00 1304.0 379.04 1305.0 379.08 1306.0 379.11 1307.0 379.15 1308.0 379.18 1309.0 379.22 1310.0 379.25 1311.0 379.29 1312.0 379.32 1313.0 379.35 1314.0 379.38 1315.0 379.41 1316.0 379.44 1317.0 379.47 1318.0 379.50 1319.0 379.53 1320.0 379.56 1321.0 379.58 1322.0 379.61 1323.0 379.64 1324.0 379.66 1325.0 379.69 1326.0 379.71 1327.0 379.74 1328.0 379.76 1329.0 379.78 1330.0 379.81 1331.0 379.83 1332.0 379.85 1333.0 379.87 1334.0 379.89 1335.0 379.92 1336.0 379.94 1337.0 379.96 1338.0 379.98 1339.0 380.00 1340.0 380.02 1341.0 380.04 1342.0 380.05 1343.0 380.07 1344.0 380.09 1345.0 380.11 1346.0 380.13 1347.0 380.14 1348.0 380.16 1349.0 380.18 1350.0 380.20 1351.0 380.21 1352.0 380.23 1353.0 380.24 1354.0 380.26 1355.0 380.28 1356.0 380.29 1357.0 380.31 1358.0 380.32 1359.0 380.34 1360.0 380.35 1361.0 380.37 1362.0 380.38 1363.0 380.39 1364.0 380.41 1365.0 380.42 1366.0 380.43 1367.0 380.45 1368.0 380.46 1369.0 380.47 1370.0 380.49 1371.0 380.50 1372.0 380.51 1373.0 380.52 1374.0 380.54 1375.0 380.55 1376.0 380.56 1377.0 380.57 1378.0 380.58 1379.0 380.60 1380.0 380.61 1381.0 380.62 1382.0 380.63 1383.0 380.64 1384.0 380.65 1385.0 380.66 1386.0 380.67 1387.0 380.68 1388.0 380.69 1389.0 380.70 1390.0 380.71 1391.0 380.73 1392.0 380.74 1393.0 380.75 1394.0 380.76 1395.0 380.76 1396.0 380.77 1397.0 380.78 1398.0 380.79 1399.0 380.80 1400.0 380.81 1401.0 380.82 1402.0 380.83 1403.0 380.84 1404.0 380.85 1405.0 380.86 1406.0 380.87 1407.0 380.88 1408.0 380.88 1409.0 380.89 1410.0 380.90 1411.0 380.91 1412.0 380.92 1413.0 380.93 1414.0 380.93 1415.0 380.94 1416.0 380.95" fill="none" stroke="#ee9cee" stroke-width="3.6" stroke-linejoin="round"/>
<path d="M980.0 387.65 981.0 387.65 982.0 387.64 983.0 387.64 984.0 387.64 985.0 387.64 986.0 387.63 987.0 387.63 988.0 387.62 989.0 387.62 990.0 387.62 991.0 387.61 992.0 387.61 993.0 387.60 994.0 387.60 995.0 387.60 996.0 387.59 997.0 387.59 998.0 387.58 999.0 387.57 1000.0 387.57 1001.0 387.56 1002.0 387.56 1003.0 387.55 1004.0 387.54 1005.0 387.54 1006.0 387.53 1007.0 387.52 1008.0 387.51 1009.0 387.51 1010.0 387.50 1011.0 387.49 1012.0 387.48 1013.0 387.47 1014.0 387.46 1015.0 387.45 1016.0 387.44 1017.0 387.43 1018.0 387.42 1019.0 387.41 1020.0 387.39 1021.0 387.38 1022.0 387.37 1023.0 387.35 1024.0 387.34 1025.0 387.32 1026.0 387.31 1027.0 387.29 1028.0 387.28 1029.0 387.26 1030.0 387.24 1031.0 387.22 1032.0 387.20 1033.0 387.18 1034.0 387.16 1035.0 387.14 1036.0 387.12 1037.0 387.09 1038.0 387.07 1039.0 387.04 1040.0 387.01 1041.0 386.99 1042.0 386.96 1043.0 386.92 1044.0 386.89 1045.0 386.86 1046.0 386.82 1047.0 386.79 1048.0 386.75 1049.0 386.71 1050.0 386.66 1051.0 386.62 1052.0 386.57 1053.0 386.52 1054.0 386.47 1055.0 386.41 1056.0 386.35 1057.0 386.29 1058.0 386.22 1059.0 386.15 1060.0 386.08 1061.0 386.00 1062.0 385.91 1063.0 385.82 1064.0 385.71 1065.0 385.60 1066.0 385.48 1067.0 385.34 1068.0 385.19 1069.0 385.02 1070.0 384.83 1071.0 384.61 1072.0 384.36 1073.0 384.08 1074.0 383.76 1075.0 383.39 1076.0 382.96 1077.0 382.47 1078.0 381.90 1079.0 381.25 1080.0 380.51 1081.0 379.66 1082.0 378.69 1083.0 377.60 1084.0 376.36 1085.0 374.97 1086.0 373.42 1087.0 371.70 1088.0 369.81 1089.0 367.73 1090.0 365.47 1091.0 363.02 1092.0 360.40 1093.0 357.62 1094.0 354.68 1095.0 351.60 1096.0 348.41 1097.0 345.14 1098.0 341.82 1099.0 338.49 1100.0 335.21 1101.0 332.01 1102.0 328.97 1103.0 326.14 1104.0 323.59 1105.0 321.39 1106.0 319.60 1107.0 318.27 1108.0 317.45 1109.0 317.16 1110.0 317.26 1111.0 317.65 1112.0 318.32 1113.0 319.25 1114.0 320.41 1115.0 321.79 1116.0 323.35 1117.0 325.06 1118.0 326.88 1119.0 328.79 1120.0 330.76 1121.0 332.76 1122.0 334.77 1123.0 336.77 1124.0 338.74 1125.0 340.68 1126.0 342.56 1127.0 344.39 1128.0 346.15 1129.0 347.85 1130.0 349.47 1131.0 351.02 1132.0 352.50 1133.0 353.90 1134.0 355.23 1135.0 356.49 1136.0 357.69 1137.0 358.81 1138.0 359.88 1139.0 360.88 1140.0 361.83 1141.0 362.71 1142.0 363.55 1143.0 364.33 1144.0 365.07 1145.0 365.76 1146.0 366.40 1147.0 367.00 1148.0 367.56 1149.0 368.08 1150.0 368.56 1151.0 369.00 1152.0 369.40 1153.0 369.76 1154.0 370.08 1155.0 370.36 1156.0 370.60 1157.0 370.80 1158.0 370.94 1159.0 371.04 1160.0 371.08 1161.0 371.06 1162.0 370.98 1163.0 370.83 1164.0 370.59 1165.0 370.28 1166.0 369.87 1167.0 369.36 1168.0 368.74 1169.0 368.01 1170.0 367.16 1171.0 366.17 1172.0 365.06 1173.0 363.80 1174.0 362.40 1175.0 360.86 1176.0 359.19 1177.0 357.37 1178.0 355.43 1179.0 353.37 1180.0 351.20 1181.0 348.95 1182.0 346.63 1183.0 344.26 1184.0 341.89 1185.0 339.54 1186.0 337.24 1187.0 335.05 1188.0 333.01 1189.0 331.15 1190.0 329.54 1191.0 328.22 1192.0 327.23 1193.0 326.59 1194.0 326.35 1195.0 326.45 1196.0 326.79 1197.0 327.37 1198.0 328.17 1199.0 329.17 1200.0 330.35 1201.0 331.68 1202.0 333.13 1203.0 334.67 1204.0 336.29 1205.0 337.95 1206.0 339.63 1207.0 341.32 1208.0 342.99 1209.0 344.64 1210.0 346.25 1211.0 347.82 1212.0 349.33 1213.0 350.78 1214.0 352.18 1215.0 353.52 1216.0 354.79 1217.0 356.01 1218.0 357.16 1219.0 358.25 1220.0 359.29 1221.0 360.27 1222.0 361.20 1223.0 362.08 1224.0 362.91 1225.0 363.69 1226.0 364.43 1227.0 365.13 1228.0 365.80 1229.0 366.42 1230.0 367.01 1231.0 367.57 1232.0 368.10 1233.0 368.60 1234.0 369.07 1235.0 369.52 1236.0 369.95 1237.0 370.35 1238.0 370.73 1239.0 371.09 1240.0 371.44 1241.0 371.76 1242.0 372.07 1243.0 372.37 1244.0 372.65 1245.0 372.92 1246.0 373.18 1247.0 373.42 1248.0 373.65 1249.0 373.88 1250.0 374.09 1251.0 374.29 1252.0 374.49 1253.0 374.68 1254.0 374.85 1255.0 375.03 1256.0 375.19 1257.0 375.35 1258.0 375.50 1259.0 375.65 1260.0 375.79 1261.0 375.93 1262.0 376.06 1263.0 376.18 1264.0 376.31 1265.0 376.42 1266.0 376.54 1267.0 376.64 1268.0 376.75 1269.0 376.85 1270.0 376.95 1271.0 377.05 1272.0 377.14 1273.0 377.23 1274.0 377.32 1275.0 377.40 1276.0 377.48 1277.0 377.56 1278.0 377.64 1279.0 377.71 1280.0 377.78 1281.0 377.85 1282.0 377.92 1283.0 377.99 1284.0 378.05 1285.0 378.11 1286.0 378.17 1287.0 378.23 1288.0 378.29 1289.0 378.35 1290.0 378.40 1291.0 378.45 1292.0 378.51 1293.0 378.56 1294.0 378.61 1295.0 378.65 1296.0 378.70 1297.0 378.75 1298.0 378.79 1299.0 378.83 1300.0 378.88 1301.0 378.92 1302.0 378.96 1303.0 379.00 1304.0 379.04 1305.0 379.08 1306.0 379.11 1307.0 379.15 1308.0 379.18 1309.0 379.22 1310.0 379.25 1311.0 379.29 1312.0 379.32 1313.0 379.35 1314.0 379.38 1315.0 379.41 1316.0 379.44 1317.0 379.47 1318.0 379.50 1319.0 379.53 1320.0 379.56 1321.0 379.58 1322.0 379.61 1323.0 379.64 1324.0 379.66 1325.0 379.69 1326.0 379.71 1327.0 379.74 1328.0 379.76 1329.0 379.78 1330.0 379.81 1331.0 379.83 1332.0 379.85 1333.0 379.87 1334.0 379.89 1335.0 379.92 1336.0 379.94 1337.0 379.96 1338.0 379.98 1339.0 380.00 1340.0 380.02 1341.0 380.04 1342.0 380.05 1343.0 380.07 1344.0 380.09 1345.0 380.11 1346.0 380.13 1347.0 380.14 1348.0 380.16 1349.0 380.18 1350.0 380.20 1351.0 380.21 1352.0 380.23 1353.0 380.24 1354.0 380.26 1355.0 380.28 1356.0 380.29 1357.0 380.31 1358.0 380.32 1359.0 380.34 1360.0 380.35 1361.0 380.37 1362.0 380.38 1363.0 380.39 1364.0 380.41 1365.0 380.42 1366.0 380.43 1367.0 380.45 1368.0 380.46 1369.0 380.47 1370.0 380.49 1371.0 380.50 1372.0 380.51 1373.0 380.52 1374.0 380.54 1375.0 380.55 1376.0 380.56 1377.0 380.57 1378.0 380.58 1379.0 380.60 1380.0 380.61 1381.0 380.62 1382.0 380.63 1383.0 380.64 1384.0 380.65 1385.0 380.66 1386.0 380.67 1387.0 380.68 1388.0 380.69 1389.0 380.70 1390.0 380.71 1391.0 380.73 1392.0 380.74 1393.0 380.75 1394.0 380.76 1395.0 380.76 1396.0 380.77 1397.0 380.78 1398.0 380.79 1399.0 380.80 1400.0 380.81 1401.0 380.82 1402.0 380.83 1403.0 380.84 1404.0 380.85 1405.0 380.86 1406.0 380.87 1407.0 380.88 1408.0 380.88 1409.0 380.89 1410.0 380.90 1411.0 380.91 1412.0 380.92 1413.0 380.93 1414.0 380.93 1415.0 380.94 1416.0 380.95" fill="none" stroke="#72296f" stroke-width="2.2" stroke-linejoin="round"/>
<text x="1446.5" y="379.9" class="cl">3nm 40s</text>
<path d="M980.0 460.89 981.0 460.90 982.0 460.90 983.0 460.90 984.0 460.91 985.0 460.91 986.0 460.91 987.0 460.91 988.0 460.92 989.0 460.92 990.0 460.92 991.0 460.92 992.0 460.92 993.0 460.92 994.0 460.92 995.0 460.92 996.0 460.93 997.0 460.93 998.0 460.93 999.0 460.93 1000.0 460.93 1001.0 460.93 1002.0 460.92 1003.0 460.92 1004.0 460.92 1005.0 460.92 1006.0 460.92 1007.0 460.92 1008.0 460.91 1009.0 460.91 1010.0 460.91 1011.0 460.90 1012.0 460.90 1013.0 460.90 1014.0 460.89 1015.0 460.89 1016.0 460.88 1017.0 460.88 1018.0 460.87 1019.0 460.86 1020.0 460.86 1021.0 460.85 1022.0 460.84 1023.0 460.83 1024.0 460.82 1025.0 460.81 1026.0 460.80 1027.0 460.79 1028.0 460.78 1029.0 460.77 1030.0 460.75 1031.0 460.74 1032.0 460.73 1033.0 460.71 1034.0 460.69 1035.0 460.68 1036.0 460.66 1037.0 460.64 1038.0 460.62 1039.0 460.60 1040.0 460.57 1041.0 460.55 1042.0 460.52 1043.0 460.50 1044.0 460.47 1045.0 460.44 1046.0 460.41 1047.0 460.37 1048.0 460.34 1049.0 460.30 1050.0 460.26 1051.0 460.22 1052.0 460.18 1053.0 460.13 1054.0 460.08 1055.0 460.03 1056.0 459.97 1057.0 459.91 1058.0 459.85 1059.0 459.78 1060.0 459.71 1061.0 459.63 1062.0 459.54 1063.0 459.44 1064.0 459.34 1065.0 459.22 1066.0 459.09 1067.0 458.95 1068.0 458.79 1069.0 458.61 1070.0 458.40 1071.0 458.16 1072.0 457.90 1073.0 457.59 1074.0 457.24 1075.0 456.84 1076.0 456.38 1077.0 455.86 1078.0 455.26 1079.0 454.58 1080.0 453.80 1081.0 452.93 1082.0 451.93 1083.0 450.82 1084.0 449.57 1085.0 448.18 1086.0 446.64 1087.0 444.95 1088.0 443.09 1089.0 441.07 1090.0 438.88 1091.0 436.52 1092.0 434.01 1093.0 431.35 1094.0 428.55 1095.0 425.62 1096.0 422.59 1097.0 419.49 1098.0 416.33 1099.0 413.15 1100.0 410.00 1101.0 406.91 1102.0 403.94 1103.0 401.13 1104.0 398.53 1105.0 396.22 1106.0 394.23 1107.0 392.62 1108.0 391.44 1109.0 390.72 1110.0 390.47 1111.0 390.55 1112.0 390.88 1113.0 391.45 1114.0 392.26 1115.0 393.28 1116.0 394.50 1117.0 395.88 1118.0 397.41 1119.0 399.06 1120.0 400.80 1121.0 402.62 1122.0 404.49 1123.0 406.38 1124.0 408.29 1125.0 410.20 1126.0 412.09 1127.0 413.96 1128.0 415.79 1129.0 417.57 1130.0 419.31 1131.0 420.99 1132.0 422.61 1133.0 424.17 1134.0 425.67 1135.0 427.10 1136.0 428.47 1137.0 429.77 1138.0 431.01 1139.0 432.19 1140.0 433.30 1141.0 434.36 1142.0 435.35 1143.0 436.29 1144.0 437.16 1145.0 437.99 1146.0 438.76 1147.0 439.47 1148.0 440.14 1149.0 440.75 1150.0 441.32 1151.0 441.83 1152.0 442.30 1153.0 442.72 1154.0 443.08 1155.0 443.40 1156.0 443.67 1157.0 443.88 1158.0 444.03 1159.0 444.13 1160.0 444.16 1161.0 444.13 1162.0 444.02 1163.0 443.84 1164.0 443.58 1165.0 443.23 1166.0 442.79 1167.0 442.25 1168.0 441.60 1169.0 440.85 1170.0 439.97 1171.0 438.98 1172.0 437.87 1173.0 436.63 1174.0 435.27 1175.0 433.78 1176.0 432.17 1177.0 430.43 1178.0 428.59 1179.0 426.64 1180.0 424.60 1181.0 422.49 1182.0 420.31 1183.0 418.10 1184.0 415.87 1185.0 413.65 1186.0 411.47 1187.0 409.37 1188.0 407.37 1189.0 405.52 1190.0 403.85 1191.0 402.40 1192.0 401.22 1193.0 400.32 1194.0 399.75 1195.0 399.51 1196.0 399.56 1197.0 399.81 1198.0 400.25 1199.0 400.87 1200.0 401.66 1201.0 402.60 1202.0 403.68 1203.0 404.88 1204.0 406.17 1205.0 407.55 1206.0 408.99 1207.0 410.47 1208.0 411.99 1209.0 413.52 1210.0 415.05 1211.0 416.57 1212.0 418.08 1213.0 419.56 1214.0 421.02 1215.0 422.43 1216.0 423.80 1217.0 425.14 1218.0 426.42 1219.0 427.66 1220.0 428.85 1221.0 429.99 1222.0 431.08 1223.0 432.12 1224.0 433.12 1225.0 434.07 1226.0 434.97 1227.0 435.83 1228.0 436.64 1229.0 437.42 1230.0 438.15 1231.0 438.84 1232.0 439.50 1233.0 440.12 1234.0 440.71 1235.0 441.26 1236.0 441.79 1237.0 442.28 1238.0 442.75 1239.0 443.19 1240.0 443.61 1241.0 444.01 1242.0 444.38 1243.0 444.73 1244.0 445.06 1245.0 445.38 1246.0 445.68 1247.0 445.96 1248.0 446.23 1249.0 446.48 1250.0 446.73 1251.0 446.96 1252.0 447.18 1253.0 447.38 1254.0 447.58 1255.0 447.77 1256.0 447.95 1257.0 448.13 1258.0 448.29 1259.0 448.45 1260.0 448.61 1261.0 448.75 1262.0 448.89 1263.0 449.03 1264.0 449.16 1265.0 449.29 1266.0 449.41 1267.0 449.52 1268.0 449.64 1269.0 449.75 1270.0 449.85 1271.0 449.96 1272.0 450.05 1273.0 450.15 1274.0 450.24 1275.0 450.33 1276.0 450.42 1277.0 450.51 1278.0 450.59 1279.0 450.67 1280.0 450.75 1281.0 450.82 1282.0 450.90 1283.0 450.97 1284.0 451.04 1285.0 451.11 1286.0 451.18 1287.0 451.24 1288.0 451.30 1289.0 451.37 1290.0 451.43 1291.0 451.49 1292.0 451.54 1293.0 451.60 1294.0 451.65 1295.0 451.71 1296.0 451.76 1297.0 451.81 1298.0 451.86 1299.0 451.91 1300.0 451.96 1301.0 452.01 1302.0 452.05 1303.0 452.10 1304.0 452.14 1305.0 452.19 1306.0 452.23 1307.0 452.27 1308.0 452.31 1309.0 452.36 1310.0 452.39 1311.0 452.43 1312.0 452.47 1313.0 452.51 1314.0 452.55 1315.0 452.58 1316.0 452.62 1317.0 452.65 1318.0 452.69 1319.0 452.72 1320.0 452.76 1321.0 452.79 1322.0 452.82 1323.0 452.85 1324.0 452.89 1325.0 452.92 1326.0 452.95 1327.0 452.98 1328.0 453.01 1329.0 453.04 1330.0 453.06 1331.0 453.09 1332.0 453.12 1333.0 453.15 1334.0 453.18 1335.0 453.20 1336.0 453.23 1337.0 453.26 1338.0 453.28 1339.0 453.31 1340.0 453.33 1341.0 453.36 1342.0 453.38 1343.0 453.41 1344.0 453.43 1345.0 453.46 1346.0 453.48 1347.0 453.50 1348.0 453.53 1349.0 453.55 1350.0 453.57 1351.0 453.59 1352.0 453.62 1353.0 453.64 1354.0 453.66 1355.0 453.68 1356.0 453.70 1357.0 453.72 1358.0 453.74 1359.0 453.76 1360.0 453.78 1361.0 453.80 1362.0 453.82 1363.0 453.84 1364.0 453.86 1365.0 453.88 1366.0 453.90 1367.0 453.92 1368.0 453.94 1369.0 453.96 1370.0 453.98 1371.0 454.00 1372.0 454.02 1373.0 454.03 1374.0 454.05 1375.0 454.07 1376.0 454.09 1377.0 454.11 1378.0 454.12 1379.0 454.14 1380.0 454.16 1381.0 454.18 1382.0 454.19 1383.0 454.21 1384.0 454.23 1385.0 454.24 1386.0 454.26 1387.0 454.28 1388.0 454.29 1389.0 454.31 1390.0 454.33 1391.0 454.34 1392.0 454.36 1393.0 454.37 1394.0 454.39 1395.0 454.41 1396.0 454.42 1397.0 454.44 1398.0 454.45 1399.0 454.47 1400.0 454.48 1401.0 454.50 1402.0 454.51 1403.0 454.53 1404.0 454.54 1405.0 454.56 1406.0 454.57 1407.0 454.59 1408.0 454.60 1409.0 454.62 1410.0 454.63 1411.0 454.65 1412.0 454.66 1413.0 454.68 1414.0 454.69 1415.0 454.70 1416.0 454.72" fill="none" stroke="#dede9a" stroke-width="3.6" stroke-linejoin="round"/>
<path d="M980.0 460.89 981.0 460.90 982.0 460.90 983.0 460.90 984.0 460.91 985.0 460.91 986.0 460.91 987.0 460.91 988.0 460.92 989.0 460.92 990.0 460.92 991.0 460.92 992.0 460.92 993.0 460.92 994.0 460.92 995.0 460.92 996.0 460.93 997.0 460.93 998.0 460.93 999.0 460.93 1000.0 460.93 1001.0 460.93 1002.0 460.92 1003.0 460.92 1004.0 460.92 1005.0 460.92 1006.0 460.92 1007.0 460.92 1008.0 460.91 1009.0 460.91 1010.0 460.91 1011.0 460.90 1012.0 460.90 1013.0 460.90 1014.0 460.89 1015.0 460.89 1016.0 460.88 1017.0 460.88 1018.0 460.87 1019.0 460.86 1020.0 460.86 1021.0 460.85 1022.0 460.84 1023.0 460.83 1024.0 460.82 1025.0 460.81 1026.0 460.80 1027.0 460.79 1028.0 460.78 1029.0 460.77 1030.0 460.75 1031.0 460.74 1032.0 460.73 1033.0 460.71 1034.0 460.69 1035.0 460.68 1036.0 460.66 1037.0 460.64 1038.0 460.62 1039.0 460.60 1040.0 460.57 1041.0 460.55 1042.0 460.52 1043.0 460.50 1044.0 460.47 1045.0 460.44 1046.0 460.41 1047.0 460.37 1048.0 460.34 1049.0 460.30 1050.0 460.26 1051.0 460.22 1052.0 460.18 1053.0 460.13 1054.0 460.08 1055.0 460.03 1056.0 459.97 1057.0 459.91 1058.0 459.85 1059.0 459.78 1060.0 459.71 1061.0 459.63 1062.0 459.54 1063.0 459.44 1064.0 459.34 1065.0 459.22 1066.0 459.09 1067.0 458.95 1068.0 458.79 1069.0 458.61 1070.0 458.40 1071.0 458.16 1072.0 457.90 1073.0 457.59 1074.0 457.24 1075.0 456.84 1076.0 456.38 1077.0 455.86 1078.0 455.26 1079.0 454.58 1080.0 453.80 1081.0 452.93 1082.0 451.93 1083.0 450.82 1084.0 449.57 1085.0 448.18 1086.0 446.64 1087.0 444.95 1088.0 443.09 1089.0 441.07 1090.0 438.88 1091.0 436.52 1092.0 434.01 1093.0 431.35 1094.0 428.55 1095.0 425.62 1096.0 422.59 1097.0 419.49 1098.0 416.33 1099.0 413.15 1100.0 410.00 1101.0 406.91 1102.0 403.94 1103.0 401.13 1104.0 398.53 1105.0 396.22 1106.0 394.23 1107.0 392.62 1108.0 391.44 1109.0 390.72 1110.0 390.47 1111.0 390.55 1112.0 390.88 1113.0 391.45 1114.0 392.26 1115.0 393.28 1116.0 394.50 1117.0 395.88 1118.0 397.41 1119.0 399.06 1120.0 400.80 1121.0 402.62 1122.0 404.49 1123.0 406.38 1124.0 408.29 1125.0 410.20 1126.0 412.09 1127.0 413.96 1128.0 415.79 1129.0 417.57 1130.0 419.31 1131.0 420.99 1132.0 422.61 1133.0 424.17 1134.0 425.67 1135.0 427.10 1136.0 428.47 1137.0 429.77 1138.0 431.01 1139.0 432.19 1140.0 433.30 1141.0 434.36 1142.0 435.35 1143.0 436.29 1144.0 437.16 1145.0 437.99 1146.0 438.76 1147.0 439.47 1148.0 440.14 1149.0 440.75 1150.0 441.32 1151.0 441.83 1152.0 442.30 1153.0 442.72 1154.0 443.08 1155.0 443.40 1156.0 443.67 1157.0 443.88 1158.0 444.03 1159.0 444.13 1160.0 444.16 1161.0 444.13 1162.0 444.02 1163.0 443.84 1164.0 443.58 1165.0 443.23 1166.0 442.79 1167.0 442.25 1168.0 441.60 1169.0 440.85 1170.0 439.97 1171.0 438.98 1172.0 437.87 1173.0 436.63 1174.0 435.27 1175.0 433.78 1176.0 432.17 1177.0 430.43 1178.0 428.59 1179.0 426.64 1180.0 424.60 1181.0 422.49 1182.0 420.31 1183.0 418.10 1184.0 415.87 1185.0 413.65 1186.0 411.47 1187.0 409.37 1188.0 407.37 1189.0 405.52 1190.0 403.85 1191.0 402.40 1192.0 401.22 1193.0 400.32 1194.0 399.75 1195.0 399.51 1196.0 399.56 1197.0 399.81 1198.0 400.25 1199.0 400.87 1200.0 401.66 1201.0 402.60 1202.0 403.68 1203.0 404.88 1204.0 406.17 1205.0 407.55 1206.0 408.99 1207.0 410.47 1208.0 411.99 1209.0 413.52 1210.0 415.05 1211.0 416.57 1212.0 418.08 1213.0 419.56 1214.0 421.02 1215.0 422.43 1216.0 423.80 1217.0 425.14 1218.0 426.42 1219.0 427.66 1220.0 428.85 1221.0 429.99 1222.0 431.08 1223.0 432.12 1224.0 433.12 1225.0 434.07 1226.0 434.97 1227.0 435.83 1228.0 436.64 1229.0 437.42 1230.0 438.15 1231.0 438.84 1232.0 439.50 1233.0 440.12 1234.0 440.71 1235.0 441.26 1236.0 441.79 1237.0 442.28 1238.0 442.75 1239.0 443.19 1240.0 443.61 1241.0 444.01 1242.0 444.38 1243.0 444.73 1244.0 445.06 1245.0 445.38 1246.0 445.68 1247.0 445.96 1248.0 446.23 1249.0 446.48 1250.0 446.73 1251.0 446.96 1252.0 447.18 1253.0 447.38 1254.0 447.58 1255.0 447.77 1256.0 447.95 1257.0 448.13 1258.0 448.29 1259.0 448.45 1260.0 448.61 1261.0 448.75 1262.0 448.89 1263.0 449.03 1264.0 449.16 1265.0 449.29 1266.0 449.41 1267.0 449.52 1268.0 449.64 1269.0 449.75 1270.0 449.85 1271.0 449.96 1272.0 450.05 1273.0 450.15 1274.0 450.24 1275.0 450.33 1276.0 450.42 1277.0 450.51 1278.0 450.59 1279.0 450.67 1280.0 450.75 1281.0 450.82 1282.0 450.90 1283.0 450.97 1284.0 451.04 1285.0 451.11 1286.0 451.18 1287.0 451.24 1288.0 451.30 1289.0 451.37 1290.0 451.43 1291.0 451.49 1292.0 451.54 1293.0 451.60 1294.0 451.65 1295.0 451.71 1296.0 451.76 1297.0 451.81 1298.0 451.86 1299.0 451.91 1300.0 451.96 1301.0 452.01 1302.0 452.05 1303.0 452.10 1304.0 452.14 1305.0 452.19 1306.0 452.23 1307.0 452.27 1308.0 452.31 1309.0 452.36 1310.0 452.39 1311.0 452.43 1312.0 452.47 1313.0 452.51 1314.0 452.55 1315.0 452.58 1316.0 452.62 1317.0 452.65 1318.0 452.69 1319.0 452.72 1320.0 452.76 1321.0 452.79 1322.0 452.82 1323.0 452.85 1324.0 452.89 1325.0 452.92 1326.0 452.95 1327.0 452.98 1328.0 453.01 1329.0 453.04 1330.0 453.06 1331.0 453.09 1332.0 453.12 1333.0 453.15 1334.0 453.18 1335.0 453.20 1336.0 453.23 1337.0 453.26 1338.0 453.28 1339.0 453.31 1340.0 453.33 1341.0 453.36 1342.0 453.38 1343.0 453.41 1344.0 453.43 1345.0 453.46 1346.0 453.48 1347.0 453.50 1348.0 453.53 1349.0 453.55 1350.0 453.57 1351.0 453.59 1352.0 453.62 1353.0 453.64 1354.0 453.66 1355.0 453.68 1356.0 453.70 1357.0 453.72 1358.0 453.74 1359.0 453.76 1360.0 453.78 1361.0 453.80 1362.0 453.82 1363.0 453.84 1364.0 453.86 1365.0 453.88 1366.0 453.90 1367.0 453.92 1368.0 453.94 1369.0 453.96 1370.0 453.98 1371.0 454.00 1372.0 454.02 1373.0 454.03 1374.0 454.05 1375.0 454.07 1376.0 454.09 1377.0 454.11 1378.0 454.12 1379.0 454.14 1380.0 454.16 1381.0 454.18 1382.0 454.19 1383.0 454.21 1384.0 454.23 1385.0 454.24 1386.0 454.26 1387.0 454.28 1388.0 454.29 1389.0 454.31 1390.0 454.33 1391.0 454.34 1392.0 454.36 1393.0 454.37 1394.0 454.39 1395.0 454.41 1396.0 454.42 1397.0 454.44 1398.0 454.45 1399.0 454.47 1400.0 454.48 1401.0 454.50 1402.0 454.51 1403.0 454.53 1404.0 454.54 1405.0 454.56 1406.0 454.57 1407.0 454.59 1408.0 454.60 1409.0 454.62 1410.0 454.63 1411.0 454.65 1412.0 454.66 1413.0 454.68 1414.0 454.69 1415.0 454.70 1416.0 454.72" fill="none" stroke="#4a4a20" stroke-width="2.2" stroke-linejoin="round"/>
<text x="1445" y="451.6" class="cl">3nm 50s</text>
</svg>
</body></html>
